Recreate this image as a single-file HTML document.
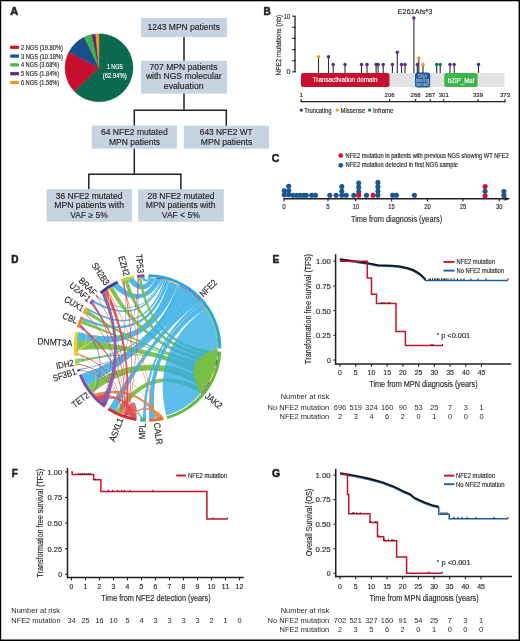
<!DOCTYPE html>
<html><head><meta charset="utf-8"><style>
html,body{margin:0;padding:0;background:#fff;}
body{width:520px;height:641px;overflow:hidden;position:relative;}
svg{position:absolute;left:0;top:0;display:block;will-change:transform;}
text{font-family:"Liberation Sans",sans-serif;}
</style></head><body>
<svg width="520" height="641" viewBox="0 0 520 641">
<rect x="0" y="0" width="520" height="641" fill="#fff"/>
<g fill="#231f20">
<text x="10.30" y="15.00" font-size="11" font-weight="bold" stroke="#231f20" stroke-width="0.55">A</text>
<path d="M99.0,67.8 L99.00,33.80 A34.0,34.0 0 1 1 74.30,91.17 Z" fill="#0b6a4e" stroke="#0b6a4e" stroke-width="0.4" stroke-linejoin="round"/>
<path d="M99.0,67.8 L74.30,91.17 A34.0,34.0 0 0 1 68.94,51.91 Z" fill="#c8102e" stroke="#c8102e" stroke-width="0.4" stroke-linejoin="round"/>
<path d="M99.0,67.8 L68.94,51.91 A34.0,34.0 0 0 1 84.37,37.11 Z" fill="#1b4f8a" stroke="#1b4f8a" stroke-width="0.4" stroke-linejoin="round"/>
<path d="M99.0,67.8 L84.37,37.11 A34.0,34.0 0 0 1 91.79,34.57 Z" fill="#3db54a" stroke="#3db54a" stroke-width="0.4" stroke-linejoin="round"/>
<path d="M99.0,67.8 L91.79,34.57 A34.0,34.0 0 0 1 95.67,33.96 Z" fill="#5c2483" stroke="#5c2483" stroke-width="0.4" stroke-linejoin="round"/>
<path d="M99.0,67.8 L95.67,33.96 A34.0,34.0 0 0 1 99.00,33.80 Z" fill="#f7941d" stroke="#f7941d" stroke-width="0.4" stroke-linejoin="round"/>
<text x="114.90" y="69.40" font-size="7.5" text-anchor="middle" stroke="#ffffff" stroke-width="0.15" fill="#ffffff" textLength="16.00" lengthAdjust="spacingAndGlyphs">1 NGS</text>
<text x="114.80" y="78.10" font-size="7.5" text-anchor="middle" stroke="#ffffff" stroke-width="0.15" fill="#ffffff" textLength="24.00" lengthAdjust="spacingAndGlyphs">(62.94%)</text>
<rect x="10.20" y="45.70" width="8.70" height="3.20" fill="#c8102e"/>
<text x="20.90" y="49.80" font-size="6.9" stroke="#231f20" stroke-width="0.15" textLength="42.00" lengthAdjust="spacingAndGlyphs">2 NGS (19.80%)</text>
<rect x="10.20" y="54.50" width="8.70" height="3.20" fill="#1b4f8a"/>
<text x="20.90" y="58.60" font-size="6.9" stroke="#231f20" stroke-width="0.15" textLength="42.00" lengthAdjust="spacingAndGlyphs">3 NGS (10.18%)</text>
<rect x="10.20" y="63.30" width="8.70" height="3.20" fill="#3db54a"/>
<text x="20.90" y="67.40" font-size="6.9" stroke="#231f20" stroke-width="0.15" textLength="38.30" lengthAdjust="spacingAndGlyphs">4 NGS (3.68%)</text>
<rect x="10.20" y="72.10" width="8.70" height="3.20" fill="#5c2483"/>
<text x="20.90" y="76.20" font-size="6.9" stroke="#231f20" stroke-width="0.15" textLength="38.30" lengthAdjust="spacingAndGlyphs">5 NGS (1.84%)</text>
<rect x="10.20" y="80.90" width="8.70" height="3.20" fill="#f7941d"/>
<text x="20.90" y="85.00" font-size="6.9" stroke="#231f20" stroke-width="0.15" textLength="38.30" lengthAdjust="spacingAndGlyphs">6 NGS (1.56%)</text>
<rect x="141.00" y="18.00" width="86.00" height="19.00" fill="#c6d4e1"/>
<rect x="141.00" y="60.80" width="86.00" height="32.80" fill="#c6d4e1"/>
<rect x="91.70" y="125.60" width="85.20" height="23.10" fill="#c6d4e1"/>
<rect x="183.80" y="125.70" width="85.20" height="23.00" fill="#c6d4e1"/>
<rect x="46.60" y="189.00" width="85.40" height="32.70" fill="#c6d4e1"/>
<rect x="138.20" y="189.20" width="85.60" height="32.50" fill="#c6d4e1"/>
<line x1="184.00" y1="37.00" x2="184.00" y2="60.80" stroke="#231f20" stroke-width="1.5"/>
<line x1="184.00" y1="93.60" x2="184.00" y2="110.30" stroke="#231f20" stroke-width="1.5"/>
<line x1="133.55" y1="110.30" x2="227.05" y2="110.30" stroke="#231f20" stroke-width="1.5"/>
<line x1="134.30" y1="110.30" x2="134.30" y2="125.60" stroke="#231f20" stroke-width="1.5"/>
<line x1="226.30" y1="110.30" x2="226.30" y2="125.70" stroke="#231f20" stroke-width="1.5"/>
<line x1="134.30" y1="148.70" x2="134.30" y2="174.30" stroke="#231f20" stroke-width="1.5"/>
<line x1="88.05" y1="174.30" x2="181.65" y2="174.30" stroke="#231f20" stroke-width="1.5"/>
<line x1="88.80" y1="174.30" x2="88.80" y2="189.00" stroke="#231f20" stroke-width="1.5"/>
<line x1="180.90" y1="174.30" x2="180.90" y2="189.20" stroke="#231f20" stroke-width="1.5"/>
<text x="183.75" y="30.20" font-size="8.5" text-anchor="middle" stroke="#231f20" stroke-width="0.15">1243 MPN patients</text>
<text x="183.50" y="70.00" font-size="8.5" text-anchor="middle" stroke="#231f20" stroke-width="0.15" textLength="67.90" lengthAdjust="spacingAndGlyphs">707 MPN patients</text>
<text x="183.75" y="79.40" font-size="8.5" text-anchor="middle" stroke="#231f20" stroke-width="0.15" textLength="75.70" lengthAdjust="spacingAndGlyphs">with NGS molecular</text>
<text x="183.70" y="88.80" font-size="8.5" text-anchor="middle" stroke="#231f20" stroke-width="0.15" textLength="39.80" lengthAdjust="spacingAndGlyphs">evaluation</text>
<text x="134.35" y="135.20" font-size="8.5" text-anchor="middle" stroke="#231f20" stroke-width="0.15">64 NFE2 mutated</text>
<text x="134.50" y="144.50" font-size="8.5" text-anchor="middle" stroke="#231f20" stroke-width="0.15">MPN patients</text>
<text x="226.25" y="135.20" font-size="8.5" text-anchor="middle" stroke="#231f20" stroke-width="0.15" textLength="52.90" lengthAdjust="spacingAndGlyphs">643 NFE2 WT</text>
<text x="226.50" y="144.50" font-size="8.5" text-anchor="middle" stroke="#231f20" stroke-width="0.15" textLength="51.40" lengthAdjust="spacingAndGlyphs">MPN patients</text>
<text x="89.05" y="198.50" font-size="8.5" text-anchor="middle" stroke="#231f20" stroke-width="0.15">36 NFE2 mutated</text>
<text x="89.10" y="207.90" font-size="8.5" text-anchor="middle" stroke="#231f20" stroke-width="0.15" textLength="69.80" lengthAdjust="spacingAndGlyphs">MPN patients with</text>
<text x="89.05" y="217.60" font-size="8.5" text-anchor="middle" stroke="#231f20" stroke-width="0.15">VAF ≥ 5%</text>
<text x="180.90" y="198.50" font-size="8.5" text-anchor="middle" stroke="#231f20" stroke-width="0.15" textLength="67.00" lengthAdjust="spacingAndGlyphs">28 NFE2 mutated</text>
<text x="180.65" y="207.90" font-size="8.5" text-anchor="middle" stroke="#231f20" stroke-width="0.15" textLength="69.70" lengthAdjust="spacingAndGlyphs">MPN patients with</text>
<text x="180.80" y="217.60" font-size="8.5" text-anchor="middle" stroke="#231f20" stroke-width="0.15">VAF &lt; 5%</text>
<text x="263.50" y="14.70" font-size="10" font-weight="bold" stroke="#231f20" stroke-width="0.55">B</text>
<line x1="295.00" y1="16.20" x2="295.00" y2="72.30" stroke="#231f20" stroke-width="1.3"/>
<line x1="292.20" y1="16.20" x2="295.60" y2="16.20" stroke="#231f20" stroke-width="1.1"/>
<line x1="292.20" y1="27.32" x2="295.60" y2="27.32" stroke="#231f20" stroke-width="1.1"/>
<line x1="292.20" y1="38.44" x2="295.60" y2="38.44" stroke="#231f20" stroke-width="1.1"/>
<line x1="292.20" y1="49.56" x2="295.60" y2="49.56" stroke="#231f20" stroke-width="1.1"/>
<line x1="292.20" y1="60.68" x2="295.60" y2="60.68" stroke="#231f20" stroke-width="1.1"/>
<line x1="292.20" y1="71.80" x2="295.60" y2="71.80" stroke="#231f20" stroke-width="1.1"/>
<text x="290.10" y="19.40" font-size="7.0" text-anchor="end" stroke="#231f20" stroke-width="0.15" textLength="6.10" lengthAdjust="spacingAndGlyphs">10</text>
<text x="290.30" y="74.20" font-size="7.0" text-anchor="end" stroke="#231f20" stroke-width="0.15">0</text>
<text x="281.00" y="45.20" font-size="6.6" text-anchor="middle" stroke="#231f20" stroke-width="0.15" transform="rotate(-90 281.00 45.20)">NFE2 mutations (nb)</text>
<rect x="301.00" y="73.00" width="203.60" height="14.00" fill="#e2e2e2" rx="2.5"/>
<rect x="301.00" y="73.00" width="88.50" height="14.00" fill="#c8102e" rx="2.5"/>
<rect x="415.00" y="72.60" width="15.20" height="14.80" fill="#1f5a96" rx="2.5"/>
<rect x="444.30" y="73.00" width="33.30" height="14.00" fill="#3db54a" rx="2.5"/>
<text x="345.10" y="82.40" font-size="6.6" text-anchor="middle" stroke="#ffffff" stroke-width="0.15" fill="#ffffff" textLength="64.80" lengthAdjust="spacingAndGlyphs">Transactivation domain</text>
<text x="461.20" y="82.60" font-size="6.8" text-anchor="middle" stroke="#ffffff" stroke-width="0.15" fill="#ffffff" textLength="26.50" lengthAdjust="spacingAndGlyphs">bZIP_Maf</text>
<text x="422.70" y="77.80" font-size="4.6" text-anchor="middle" fill="#c9d8ea" textLength="8.70" lengthAdjust="spacingAndGlyphs">DNA</text>
<text x="422.50" y="81.90" font-size="4.6" text-anchor="middle" fill="#c9d8ea" textLength="13.30" lengthAdjust="spacingAndGlyphs">binding</text>
<text x="422.50" y="86.00" font-size="4.6" text-anchor="middle" fill="#c9d8ea" textLength="13.30" lengthAdjust="spacingAndGlyphs">domain</text>
<line x1="318.50" y1="56.80" x2="318.50" y2="73.00" stroke="#2b2b2b" stroke-width="1.1"/>
<line x1="328.50" y1="56.80" x2="328.50" y2="73.00" stroke="#2b2b2b" stroke-width="1.1"/>
<line x1="333.20" y1="64.50" x2="333.20" y2="73.00" stroke="#2b2b2b" stroke-width="1.1"/>
<line x1="345.00" y1="64.50" x2="345.00" y2="73.00" stroke="#2b2b2b" stroke-width="1.1"/>
<line x1="361.50" y1="64.50" x2="361.50" y2="73.00" stroke="#2b2b2b" stroke-width="1.1"/>
<line x1="367.00" y1="64.50" x2="367.00" y2="73.00" stroke="#2b2b2b" stroke-width="1.1"/>
<line x1="376.10" y1="64.50" x2="376.10" y2="73.00" stroke="#2b2b2b" stroke-width="1.1"/>
<line x1="378.10" y1="64.50" x2="378.10" y2="73.00" stroke="#2b2b2b" stroke-width="1.1"/>
<line x1="383.20" y1="64.50" x2="383.20" y2="73.00" stroke="#2b2b2b" stroke-width="1.1"/>
<line x1="392.40" y1="64.50" x2="392.40" y2="73.00" stroke="#2b2b2b" stroke-width="1.1"/>
<line x1="397.30" y1="52.20" x2="397.30" y2="73.00" stroke="#2b2b2b" stroke-width="1.1"/>
<line x1="401.50" y1="64.50" x2="401.50" y2="73.00" stroke="#2b2b2b" stroke-width="1.1"/>
<line x1="405.00" y1="64.50" x2="405.00" y2="73.00" stroke="#2b2b2b" stroke-width="1.1"/>
<line x1="413.90" y1="17.90" x2="413.90" y2="73.00" stroke="#2b2b2b" stroke-width="1.1"/>
<line x1="417.30" y1="64.50" x2="417.30" y2="73.00" stroke="#2b2b2b" stroke-width="1.1"/>
<line x1="418.80" y1="58.10" x2="418.80" y2="73.00" stroke="#2b2b2b" stroke-width="1.1"/>
<line x1="423.00" y1="64.50" x2="423.00" y2="73.00" stroke="#2b2b2b" stroke-width="1.1"/>
<line x1="436.70" y1="64.50" x2="436.70" y2="73.00" stroke="#2b2b2b" stroke-width="1.1"/>
<line x1="440.20" y1="64.50" x2="440.20" y2="73.00" stroke="#2b2b2b" stroke-width="1.1"/>
<line x1="450.00" y1="64.50" x2="450.00" y2="73.00" stroke="#2b2b2b" stroke-width="1.1"/>
<line x1="454.20" y1="64.50" x2="454.20" y2="73.00" stroke="#2b2b2b" stroke-width="1.1"/>
<line x1="478.50" y1="64.50" x2="478.50" y2="73.00" stroke="#2b2b2b" stroke-width="1.1"/>
<circle cx="318.50" cy="56.80" r="1.75" fill="#f7941d"/>
<circle cx="328.50" cy="56.80" r="1.75" fill="#5b2a86"/>
<circle cx="333.20" cy="64.50" r="1.75" fill="#5b2a86"/>
<circle cx="345.00" cy="64.50" r="1.75" fill="#5b2a86"/>
<circle cx="361.50" cy="64.50" r="1.75" fill="#5b2a86"/>
<circle cx="367.00" cy="64.50" r="1.75" fill="#5b2a86"/>
<circle cx="376.10" cy="64.50" r="1.75" fill="#5b2a86"/>
<circle cx="378.10" cy="64.50" r="1.75" fill="#5b2a86"/>
<circle cx="383.20" cy="64.50" r="1.75" fill="#5b2a86"/>
<circle cx="392.40" cy="64.50" r="1.75" fill="#5b2a86"/>
<circle cx="397.30" cy="52.20" r="1.75" fill="#5b2a86"/>
<circle cx="401.50" cy="64.50" r="1.75" fill="#5b2a86"/>
<circle cx="405.00" cy="64.50" r="1.75" fill="#5b2a86"/>
<circle cx="413.90" cy="17.90" r="1.75" fill="#5b2a86"/>
<circle cx="417.30" cy="64.50" r="1.75" fill="#5b2a86"/>
<circle cx="418.80" cy="58.10" r="1.75" fill="#f7941d"/>
<circle cx="423.00" cy="64.50" r="1.75" fill="#f7941d"/>
<circle cx="436.70" cy="64.50" r="1.75" fill="#11705a"/>
<circle cx="440.20" cy="64.50" r="1.75" fill="#11705a"/>
<circle cx="450.00" cy="64.50" r="1.75" fill="#5b2a86"/>
<circle cx="454.20" cy="64.50" r="1.75" fill="#5b2a86"/>
<circle cx="478.50" cy="64.50" r="1.75" fill="#5b2a86"/>
<text x="415.00" y="13.80" font-size="7.3" text-anchor="middle" stroke="#231f20" stroke-width="0.15">E261Afs*3</text>
<line x1="300.60" y1="101.70" x2="505.60" y2="101.70" stroke="#231f20" stroke-width="1.2"/>
<line x1="301.20" y1="98.90" x2="301.20" y2="101.70" stroke="#231f20" stroke-width="1.1"/>
<text x="301.20" y="96.90" font-size="6.0" text-anchor="middle" stroke="#231f20" stroke-width="0.15">1</text>
<line x1="389.60" y1="98.90" x2="389.60" y2="101.70" stroke="#231f20" stroke-width="1.1"/>
<text x="389.60" y="96.90" font-size="6.0" text-anchor="middle" stroke="#231f20" stroke-width="0.15">206</text>
<line x1="415.60" y1="98.90" x2="415.60" y2="101.70" stroke="#231f20" stroke-width="1.1"/>
<text x="415.60" y="96.90" font-size="6.0" text-anchor="middle" stroke="#231f20" stroke-width="0.15">268</text>
<line x1="430.20" y1="98.90" x2="430.20" y2="101.70" stroke="#231f20" stroke-width="1.1"/>
<text x="430.20" y="96.90" font-size="6.0" text-anchor="middle" stroke="#231f20" stroke-width="0.15">287</text>
<line x1="443.80" y1="98.90" x2="443.80" y2="101.70" stroke="#231f20" stroke-width="1.1"/>
<text x="443.80" y="96.90" font-size="6.0" text-anchor="middle" stroke="#231f20" stroke-width="0.15">301</text>
<line x1="478.00" y1="98.90" x2="478.00" y2="101.70" stroke="#231f20" stroke-width="1.1"/>
<text x="478.00" y="96.90" font-size="6.0" text-anchor="middle" stroke="#231f20" stroke-width="0.15">339</text>
<line x1="505.00" y1="98.90" x2="505.00" y2="101.70" stroke="#231f20" stroke-width="1.1"/>
<text x="505.00" y="96.90" font-size="6.0" text-anchor="middle" stroke="#231f20" stroke-width="0.15">373</text>
<circle cx="301.30" cy="110.10" r="1.6" fill="#5b2a86"/>
<text x="304.20" y="112.50" font-size="6.9" stroke="#231f20" stroke-width="0.15" textLength="27.30" lengthAdjust="spacingAndGlyphs">Truncating</text>
<circle cx="337.30" cy="110.10" r="1.6" fill="#f7941d"/>
<text x="340.60" y="112.50" font-size="6.9" stroke="#231f20" stroke-width="0.15" textLength="24.60" lengthAdjust="spacingAndGlyphs">Missense</text>
<circle cx="369.60" cy="110.10" r="1.6" fill="#11705a"/>
<text x="372.90" y="112.50" font-size="6.9" stroke="#231f20" stroke-width="0.15" textLength="20.60" lengthAdjust="spacingAndGlyphs">Inframe</text>
<text x="271.80" y="162.30" font-size="10.5" font-weight="bold" stroke="#231f20" stroke-width="0.55">C</text>
<circle cx="340.80" cy="155.60" r="2.4" fill="#d0103a"/>
<circle cx="340.80" cy="165.30" r="2.4" fill="#1a5693"/>
<text x="345.60" y="157.60" font-size="6.3" stroke="#231f20" stroke-width="0.15" textLength="163.10" lengthAdjust="spacingAndGlyphs">NFE2 mutation in patients with previous NGS showing WT NFE2</text>
<text x="345.60" y="167.30" font-size="6.3" stroke="#231f20" stroke-width="0.15" textLength="112.40" lengthAdjust="spacingAndGlyphs">NFE2 mutation detected in first NGS sample</text>
<line x1="283.30" y1="198.80" x2="506.00" y2="198.80" stroke="#231f20" stroke-width="1.4"/>
<path d="M504.5,196.9 L510.6,198.8 L504.5,200.7 Z" fill="#231f20"/>
<line x1="284.00" y1="198.80" x2="284.00" y2="201.30" stroke="#231f20" stroke-width="1.1"/>
<text x="284.00" y="208.60" font-size="6.7" text-anchor="middle" stroke="#231f20" stroke-width="0.15" textLength="3.40" lengthAdjust="spacingAndGlyphs">0</text>
<line x1="328.00" y1="198.80" x2="328.00" y2="201.30" stroke="#231f20" stroke-width="1.1"/>
<text x="328.00" y="208.60" font-size="6.7" text-anchor="middle" stroke="#231f20" stroke-width="0.15" textLength="3.40" lengthAdjust="spacingAndGlyphs">5</text>
<line x1="355.70" y1="198.80" x2="355.70" y2="201.30" stroke="#231f20" stroke-width="1.1"/>
<text x="355.70" y="208.60" font-size="6.7" text-anchor="middle" stroke="#231f20" stroke-width="0.15" textLength="6.50" lengthAdjust="spacingAndGlyphs">10</text>
<line x1="391.60" y1="198.80" x2="391.60" y2="201.30" stroke="#231f20" stroke-width="1.1"/>
<text x="391.60" y="208.60" font-size="6.7" text-anchor="middle" stroke="#231f20" stroke-width="0.15" textLength="6.50" lengthAdjust="spacingAndGlyphs">15</text>
<line x1="427.50" y1="198.80" x2="427.50" y2="201.30" stroke="#231f20" stroke-width="1.1"/>
<text x="427.50" y="208.60" font-size="6.7" text-anchor="middle" stroke="#231f20" stroke-width="0.15" textLength="6.50" lengthAdjust="spacingAndGlyphs">20</text>
<line x1="463.00" y1="198.80" x2="463.00" y2="201.30" stroke="#231f20" stroke-width="1.1"/>
<text x="463.00" y="208.60" font-size="6.7" text-anchor="middle" stroke="#231f20" stroke-width="0.15" textLength="6.50" lengthAdjust="spacingAndGlyphs">25</text>
<line x1="499.30" y1="198.80" x2="499.30" y2="201.30" stroke="#231f20" stroke-width="1.1"/>
<text x="499.30" y="208.60" font-size="6.7" text-anchor="middle" stroke="#231f20" stroke-width="0.15" textLength="6.50" lengthAdjust="spacingAndGlyphs">30</text>
<text x="396.50" y="221.60" font-size="9.8" text-anchor="middle" stroke="#231f20" stroke-width="0.15" textLength="91.20" lengthAdjust="spacingAndGlyphs">Time from diagnosis (years)</text>
<circle cx="284.30" cy="194.80" r="2.55" fill="#1a5693"/>
<circle cx="284.30" cy="190.80" r="2.55" fill="#1a5693"/>
<circle cx="288.70" cy="194.80" r="2.55" fill="#1a5693"/>
<circle cx="288.70" cy="190.80" r="2.55" fill="#1a5693"/>
<circle cx="288.70" cy="186.20" r="2.55" fill="#1a5693"/>
<circle cx="292.90" cy="195.30" r="2.55" fill="#1a5693"/>
<circle cx="296.70" cy="195.30" r="2.55" fill="#1a5693"/>
<circle cx="300.10" cy="195.30" r="2.55" fill="#1a5693"/>
<circle cx="303.50" cy="195.30" r="2.55" fill="#1a5693"/>
<circle cx="306.30" cy="195.30" r="2.55" fill="#1a5693"/>
<circle cx="311.60" cy="195.30" r="2.55" fill="#1a5693"/>
<circle cx="315.50" cy="195.30" r="2.55" fill="#1a5693"/>
<circle cx="329.80" cy="195.30" r="2.55" fill="#1a5693"/>
<circle cx="336.10" cy="195.30" r="2.55" fill="#1a5693"/>
<circle cx="341.80" cy="195.30" r="2.55" fill="#1a5693"/>
<circle cx="341.80" cy="191.20" r="2.55" fill="#1a5693"/>
<circle cx="341.80" cy="186.60" r="2.55" fill="#1a5693"/>
<circle cx="346.20" cy="195.30" r="2.55" fill="#1a5693"/>
<circle cx="353.80" cy="195.30" r="2.55" fill="#1a5693"/>
<circle cx="358.70" cy="191.70" r="2.55" fill="#1a5693"/>
<circle cx="358.70" cy="187.40" r="2.55" fill="#1a5693"/>
<circle cx="358.70" cy="183.10" r="2.55" fill="#1a5693"/>
<circle cx="358.70" cy="195.30" r="2.55" fill="#d0103a"/>
<circle cx="366.50" cy="195.30" r="2.55" fill="#1a5693"/>
<circle cx="373.10" cy="195.30" r="2.55" fill="#d0103a"/>
<circle cx="377.90" cy="195.30" r="2.55" fill="#1a5693"/>
<circle cx="377.90" cy="191.20" r="2.55" fill="#1a5693"/>
<circle cx="377.90" cy="186.90" r="2.55" fill="#1a5693"/>
<circle cx="377.90" cy="182.40" r="2.55" fill="#1a5693"/>
<circle cx="392.60" cy="195.30" r="2.55" fill="#1a5693"/>
<circle cx="396.40" cy="195.30" r="2.55" fill="#1a5693"/>
<circle cx="414.40" cy="195.30" r="2.55" fill="#1a5693"/>
<circle cx="485.10" cy="195.70" r="2.55" fill="#d0103a"/>
<circle cx="485.10" cy="191.30" r="2.55" fill="#1a5693"/>
<circle cx="485.10" cy="186.60" r="2.55" fill="#d0103a"/>
<circle cx="503.90" cy="195.40" r="2.55" fill="#1a5693"/>
<circle cx="503.90" cy="191.60" r="2.55" fill="#1a5693"/>
<text x="11.20" y="263.00" font-size="10" font-weight="bold" stroke="#231f20" stroke-width="0.55">D</text>
<path d="M217.51,351.55 A70.10,70.10 0 0 1 200.97,393.34 Q180.57,360.23 217.60,348.37 Z" fill="#7bc143"/>
<path d="M148.48,277.91 A70.10,70.10 0 0 1 149.96,277.94 Q145.87,284.81 141.43,278.16 A70.10,70.10 0 0 1 144.56,277.96 Q146.57,281.11 148.48,277.91 Z" fill="#4fb8e8"/>
<path d="M149.96,277.94 A70.10,70.10 0 0 1 156.12,278.43 Q143.68,299.61 128.06,280.65 A70.10,70.10 0 0 1 134.36,279.14 Q143.08,290.46 149.96,277.94 Z" fill="#4fb8e8"/>
<path d="M156.12,278.43 A70.10,70.10 0 0 1 161.73,279.36 Q142.21,313.94 113.12,286.91 A70.10,70.10 0 0 1 118.65,284.11 Q141.23,306.65 156.12,278.43 Z" fill="#4fb8e8"/>
<path d="M161.73,279.36 A70.10,70.10 0 0 1 162.69,279.57 Q140.93,325.08 98.37,298.00 A70.10,70.10 0 0 1 99.07,297.32 Q140.66,324.12 161.73,279.36 Z" fill="#4fb8e8"/>
<path d="M162.69,279.57 A70.10,70.10 0 0 1 164.14,279.90 Q141.31,329.12 93.76,302.99 A70.10,70.10 0 0 1 95.16,301.37 Q140.87,327.47 162.69,279.57 Z" fill="#4fb8e8"/>
<path d="M164.14,279.90 A70.10,70.10 0 0 1 165.93,280.37 Q145.26,342.28 88.08,310.81 A70.10,70.10 0 0 1 89.18,309.11 Q144.63,340.63 164.14,279.90 Z" fill="#4fb8e8"/>
<path d="M165.93,280.37 A70.10,70.10 0 0 1 168.90,281.24 Q147.29,347.55 82.99,320.57 A70.10,70.10 0 0 1 84.18,317.93 Q146.35,345.50 165.93,280.37 Z" fill="#4fb8e8"/>
<path d="M168.90,281.24 A70.10,70.10 0 0 1 177.51,284.65 Q151.22,354.64 77.79,340.57 A70.10,70.10 0 0 1 79.17,332.35 Q149.23,351.04 168.90,281.24 Z" fill="#4fb8e8"/>
<path d="M177.51,284.65 A70.10,70.10 0 0 1 179.17,285.46 Q153.61,356.19 78.53,360.53 A70.10,70.10 0 0 1 78.23,358.72 Q153.46,355.99 177.51,284.65 Z" fill="#4fb8e8"/>
<path d="M179.17,285.46 A70.10,70.10 0 0 1 180.05,285.92 Q154.26,356.00 80.87,369.78 A70.10,70.10 0 0 1 80.57,368.85 Q154.26,356.00 179.17,285.46 Z" fill="#4fb8e8"/>
<path d="M217.51,351.55 A70.10,70.10 0 0 1 217.22,355.32 Q149.50,345.96 138.99,278.42 A70.10,70.10 0 0 1 141.43,278.16 Q150.63,344.76 217.51,351.55 Z" fill="#76c043" fill-opacity="0.95"/>
<path d="M217.22,355.32 A70.10,70.10 0 0 1 216.60,359.79 Q146.73,348.91 124.56,281.76 A70.10,70.10 0 0 1 128.06,280.65 Q147.71,347.75 217.22,355.32 Z" fill="#76c043" fill-opacity="0.95"/>
<path d="M216.60,359.79 A70.10,70.10 0 0 1 215.53,364.92 Q145.24,351.17 109.31,289.22 A70.10,70.10 0 0 1 113.12,286.91 Q145.79,350.43 216.60,359.79 Z" fill="#76c043" fill-opacity="0.95"/>
<path d="M215.53,364.92 A70.10,70.10 0 0 1 214.62,368.22 Q146.25,350.96 86.16,314.07 A70.10,70.10 0 0 1 88.08,310.81 Q145.96,351.63 215.53,364.92 Z" fill="#76c043" fill-opacity="0.95"/>
<path d="M214.62,368.22 A70.10,70.10 0 0 1 213.48,371.69 Q147.43,348.20 81.71,323.80 A70.10,70.10 0 0 1 82.99,320.57 Q146.80,349.93 214.62,368.22 Z" fill="#76c043" fill-opacity="0.95"/>
<path d="M213.48,371.69 A70.10,70.10 0 0 1 212.79,373.52 Q147.87,343.56 78.91,362.45 A70.10,70.10 0 0 1 78.53,360.53 Q147.87,343.52 213.48,371.69 Z" fill="#76c043" fill-opacity="0.95"/>
<path d="M212.79,373.52 A70.10,70.10 0 0 1 209.20,381.26 Q148.53,343.63 77.43,350.10 A70.10,70.10 0 0 1 77.79,340.57 Q148.36,344.46 212.79,373.52 Z" fill="#76c043" fill-opacity="0.95"/>
<path d="M209.20,381.26 A70.10,70.10 0 0 1 204.13,389.31 Q147.56,350.34 93.17,392.30 A70.10,70.10 0 0 1 88.02,385.10 Q147.46,346.62 209.20,381.26 Z" fill="#76c043" fill-opacity="0.95"/>
<path d="M204.13,389.31 A70.10,70.10 0 0 1 200.97,393.34 Q151.17,363.03 120.94,412.88 A70.10,70.10 0 0 1 116.14,410.69 Q150.19,359.06 204.13,389.31 Z" fill="#76c043" fill-opacity="0.95"/>
<path d="M205.38,308.45 A70.10,70.10 0 0 1 217.60,348.37 Q180.57,360.23 200.97,393.34 A70.10,70.10 0 0 1 166.23,415.55 Q150.47,349.08 205.38,308.45 Z" fill="#35aee6" fill-opacity="0.8"/>
<path d="M180.05,285.92 A70.10,70.10 0 0 1 193.49,295.10 Q149.99,350.92 88.02,385.10 A70.10,70.10 0 0 1 82.32,373.81 Q150.23,351.03 180.05,285.92 Z" fill="#3aafe6" fill-opacity="0.88"/>
<path d="M193.49,295.10 A70.10,70.10 0 0 1 199.82,301.35 Q144.14,345.43 116.14,410.69 A70.10,70.10 0 0 1 109.53,406.92 Q145.51,346.51 193.49,295.10 Z" fill="#3aafe6" fill-opacity="0.88"/>
<path d="M199.82,301.35 A70.10,70.10 0 0 1 201.83,303.70 Q144.66,346.61 146.03,418.08 A70.10,70.10 0 0 1 142.91,417.95 Q144.13,346.36 199.82,301.35 Z" fill="#3aafe6" fill-opacity="0.88"/>
<path d="M201.83,303.70 A70.10,70.10 0 0 1 205.38,308.45 Q146.52,347.55 154.95,417.70 A70.10,70.10 0 0 1 149.09,418.08 Q144.95,346.82 201.83,303.70 Z" fill="#3aafe6" fill-opacity="0.88"/>
<path d="M136.53,417.24 A70.10,70.10 0 0 1 124.10,414.08 Q137.14,388.80 136.53,417.24 Z" fill="#e8464b" fill-opacity="0.85"/>
<path d="M101.16,400.60 A70.10,70.10 0 0 1 96.60,396.20 Q109.94,386.94 101.16,400.60 Z" fill="#e8464b" fill-opacity="0.9"/>
<path d="M106.30,404.71 A70.10,70.10 0 0 1 99.25,398.85 Q114.19,388.06 106.30,404.71 Z" fill="#8c5ba8" fill-opacity="0.9"/>
<path d="M162.91,416.38 A70.10,70.10 0 0 1 159.91,416.99 Q145.76,402.26 130.68,416.05 A70.10,70.10 0 0 1 129.21,415.67 Q146.40,400.08 162.91,416.38 Z" fill="#f0844a" fill-opacity="0.95"/>
<path d="M159.91,416.99 A70.10,70.10 0 0 1 156.89,417.47 Q134.73,384.22 96.60,396.20 A70.10,70.10 0 0 1 94.48,393.85 Q135.46,382.06 159.91,416.99 Z" fill="#f0844a" fill-opacity="0.95"/>
<path d="M156.89,417.47 A70.10,70.10 0 0 1 156.29,417.55 Q132.50,366.92 77.78,355.33 A70.10,70.10 0 0 1 77.72,354.73 Q132.70,366.67 156.89,417.47 Z" fill="#f0844a" fill-opacity="0.95"/>
<path d="M156.29,417.55 A70.10,70.10 0 0 1 155.56,417.64 Q139.69,350.93 107.74,290.27 A70.10,70.10 0 0 1 108.41,289.81 Q139.97,350.82 156.29,417.55 Z" fill="#f0844a" fill-opacity="0.95"/>
<path d="M155.56,417.64 A70.10,70.10 0 0 1 154.95,417.70 Q142.52,349.21 122.15,282.64 A70.10,70.10 0 0 1 123.07,282.30 Q142.85,349.12 155.56,417.64 Z" fill="#f0844a" fill-opacity="0.95"/>
<path d="M142.91,417.95 A70.10,70.10 0 0 1 141.66,417.86 Q136.62,410.01 129.21,415.67 A70.10,70.10 0 0 1 128.43,415.46 Q137.00,408.94 142.91,417.95 Z" fill="#4dbf8f" fill-opacity="0.95"/>
<path d="M141.66,417.86 A70.10,70.10 0 0 1 140.42,417.74 Q127.36,386.74 94.48,393.85 A70.10,70.10 0 0 1 93.98,393.28 Q127.87,386.08 141.66,417.86 Z" fill="#4dbf8f" fill-opacity="0.95"/>
<path d="M136.63,417.25 A70.10,70.10 0 0 1 135.82,417.12 Q126.06,392.96 101.14,400.58 A70.10,70.10 0 0 1 100.50,400.01 Q126.37,392.27 136.63,417.25 Z" fill="#e8464b" fill-opacity="0.95"/>
<path d="M135.77,417.11 A70.10,70.10 0 0 1 134.96,416.97 Q125.50,392.67 100.46,399.98 A70.10,70.10 0 0 1 99.84,399.40 Q125.82,391.99 135.77,417.11 Z" fill="#e8464b" fill-opacity="0.95"/>
<path d="M134.91,416.96 A70.10,70.10 0 0 1 134.11,416.81 Q124.94,392.38 99.80,399.36 A70.10,70.10 0 0 1 99.18,398.78 Q125.27,391.70 134.91,416.96 Z" fill="#e8464b" fill-opacity="0.95"/>
<path d="M134.06,416.80 A70.10,70.10 0 0 1 133.26,416.64 Q124.39,392.07 99.14,398.74 A70.10,70.10 0 0 1 98.53,398.15 Q124.73,391.40 134.06,416.80 Z" fill="#e8464b" fill-opacity="0.95"/>
<path d="M133.20,416.63 A70.10,70.10 0 0 1 132.40,416.46 Q123.84,391.76 98.49,398.12 A70.10,70.10 0 0 1 97.88,397.52 Q124.19,391.09 133.20,416.63 Z" fill="#e8464b" fill-opacity="0.95"/>
<path d="M132.35,416.44 A70.10,70.10 0 0 1 131.56,416.26 Q123.29,391.45 97.84,397.48 A70.10,70.10 0 0 1 97.25,396.87 Q123.65,390.78 132.35,416.44 Z" fill="#e8464b" fill-opacity="0.95"/>
<path d="M131.51,416.25 A70.10,70.10 0 0 1 130.71,416.06 Q122.75,391.12 97.21,396.84 A70.10,70.10 0 0 1 96.62,396.22 Q123.12,390.46 131.51,416.25 Z" fill="#e8464b" fill-opacity="0.95"/>
<path d="M128.43,415.46 A70.10,70.10 0 0 1 127.84,415.29 Q140.01,347.47 137.50,278.62 A70.10,70.10 0 0 1 138.31,278.50 Q140.30,347.48 128.43,415.46 Z" fill="#e8464b" fill-opacity="0.95"/>
<path d="M127.84,415.29 A70.10,70.10 0 0 1 127.06,415.05 Q136.96,348.32 123.07,282.30 A70.10,70.10 0 0 1 123.98,281.96 Q137.30,348.30 127.84,415.29 Z" fill="#e8464b" fill-opacity="0.95"/>
<path d="M127.06,415.05 A70.10,70.10 0 0 1 124.94,414.37 Q132.70,350.42 105.01,292.25 A70.10,70.10 0 0 1 107.74,290.27 Q133.78,350.12 127.06,415.05 Z" fill="#e8464b" fill-opacity="0.95"/>
<path d="M124.94,414.37 A70.10,70.10 0 0 1 124.55,414.24 Q130.90,351.82 97.93,298.43 A70.10,70.10 0 0 1 98.37,298.00 Q131.11,351.74 124.94,414.37 Z" fill="#e8464b" fill-opacity="0.95"/>
<path d="M124.55,414.24 A70.10,70.10 0 0 1 123.79,413.97 Q129.11,353.37 92.04,305.13 A70.10,70.10 0 0 1 93.18,303.69 Q129.64,353.07 124.55,414.24 Z" fill="#e8464b" fill-opacity="0.95"/>
<path d="M123.79,413.97 A70.10,70.10 0 0 1 123.41,413.83 Q126.99,355.77 85.84,314.66 A70.10,70.10 0 0 1 86.16,314.07 Q127.22,355.64 123.79,413.97 Z" fill="#e8464b" fill-opacity="0.95"/>
<path d="M123.41,413.83 A70.10,70.10 0 0 1 122.45,413.47 Q124.21,359.48 80.32,327.97 A70.10,70.10 0 0 1 80.84,326.32 Q124.83,359.03 123.41,413.83 Z" fill="#e8464b" fill-opacity="0.95"/>
<path d="M122.45,413.47 A70.10,70.10 0 0 1 121.89,413.25 Q120.01,368.56 77.67,354.14 A70.10,70.10 0 0 1 77.59,353.19 Q120.39,368.18 122.45,413.47 Z" fill="#e8464b" fill-opacity="0.95"/>
<path d="M121.89,413.25 A70.10,70.10 0 0 1 121.32,413.03 Q118.48,373.21 79.45,364.84 A70.10,70.10 0 0 1 79.17,363.65 Q118.89,372.64 121.89,413.25 Z" fill="#e8464b" fill-opacity="0.95"/>
<path d="M121.32,413.03 A70.10,70.10 0 0 1 120.94,412.88 Q117.72,376.04 81.14,370.59 A70.10,70.10 0 0 1 80.87,369.78 Q117.99,375.60 121.32,413.03 Z" fill="#e8464b" fill-opacity="0.95"/>
<path d="M93.50,392.69 A70.10,70.10 0 0 1 93.17,392.30 Q102.39,366.55 77.72,354.73 A70.10,70.10 0 0 1 77.67,354.14 Q102.84,366.33 93.50,392.69 Z" fill="#f3d84a" fill-opacity="0.95"/>
<path d="M79.17,363.65 A70.10,70.10 0 0 1 78.91,362.45 Q83.38,357.10 77.59,353.19 A70.10,70.10 0 0 1 77.51,352.00 Q84.70,356.92 79.17,363.65 Z" fill="#f3d84a" fill-opacity="0.95"/>
<path d="M77.51,352.00 A70.10,70.10 0 0 1 77.47,351.05 Q92.40,339.88 81.32,324.89 A70.10,70.10 0 0 1 81.71,323.80 Q93.44,339.96 77.51,352.00 Z" fill="#f3d84a" fill-opacity="0.95"/>
<path d="M77.47,351.05 A70.10,70.10 0 0 1 77.43,350.10 Q114.77,331.18 108.41,289.81 A70.10,70.10 0 0 1 109.31,289.22 Q115.44,331.49 77.47,351.05 Z" fill="#f3d84a" fill-opacity="0.95"/>
<path d="M106.30,404.71 A70.10,70.10 0 0 1 102.31,401.59 Q125.91,348.05 102.07,294.62 A70.10,70.10 0 0 1 105.01,292.25 Q128.00,348.22 106.30,404.71 Z" fill="#8c5ba8" fill-opacity="0.95"/>
<path d="M102.31,401.59 A70.10,70.10 0 0 1 101.92,401.26 Q122.63,350.23 93.18,303.69 A70.10,70.10 0 0 1 93.76,302.99 Q123.00,350.12 102.31,401.59 Z" fill="#8c5ba8" fill-opacity="0.95"/>
<path d="M101.92,401.26 A70.10,70.10 0 0 1 101.54,400.93 Q131.66,345.01 123.98,281.96 A70.10,70.10 0 0 1 124.56,281.76 Q131.89,345.04 101.92,401.26 Z" fill="#8c5ba8" fill-opacity="0.95"/>
<path d="M101.54,400.93 A70.10,70.10 0 0 1 101.16,400.60 Q134.81,344.14 138.31,278.50 A70.10,70.10 0 0 1 138.99,278.42 Q135.04,344.19 101.54,400.93 Z" fill="#8c5ba8" fill-opacity="0.95"/>
<path d="M93.98,393.28 A70.10,70.10 0 0 1 93.50,392.69 Q111.27,354.91 80.84,326.32 A70.10,70.10 0 0 1 81.32,324.89 Q112.04,354.57 93.98,393.28 Z" fill="#8c5ba8" fill-opacity="0.95"/>
<path d="M148.53,274.21 A73.8,73.8 0 0 1 221.30,348.39 L218.40,348.37 A70.9,70.9 0 0 0 148.49,277.11 Z" fill="#27a7e0"/>
<path d="M221.21,351.73 A73.8,73.8 0 0 1 167.22,419.12 L166.45,416.32 A70.9,70.9 0 0 0 218.31,351.59 Z" fill="#62b946"/>
<path d="M163.72,419.99 A73.8,73.8 0 0 1 149.17,421.78 L149.11,418.88 A70.9,70.9 0 0 0 163.09,417.17 Z" fill="#f26a21"/>
<path d="M145.95,421.78 A73.8,73.8 0 0 1 140.04,421.42 L140.34,418.54 A70.9,70.9 0 0 0 146.02,418.88 Z" fill="#3fba8a"/>
<path d="M136.08,420.91 A73.8,73.8 0 0 1 107.52,410.03 L109.09,407.60 A70.9,70.9 0 0 0 136.53,418.05 Z" fill="#e2232a"/>
<path d="M104.12,407.71 A73.8,73.8 0 0 1 78.88,375.17 L81.58,374.10 A70.9,70.9 0 0 0 105.83,405.36 Z" fill="#7c4d9f"/>
<path d="M77.64,371.78 A73.8,73.8 0 0 1 77.04,369.95 L79.81,369.08 A70.9,70.9 0 0 0 80.38,370.85 Z" fill="#2e3192"/>
<path d="M75.86,365.73 A73.8,73.8 0 0 1 74.57,359.29 L77.43,358.85 A70.9,70.9 0 0 0 78.68,365.03 Z" fill="#b2cf36"/>
<path d="M74.10,355.71 A73.8,73.8 0 0 1 75.56,331.52 L78.39,332.17 A70.9,70.9 0 0 0 76.99,355.41 Z" fill="#f3d31a"/>
<path d="M76.78,326.92 A73.8,73.8 0 0 1 80.83,316.34 L83.45,317.59 A70.9,70.9 0 0 0 79.55,327.74 Z" fill="#f0812a"/>
<path d="M82.58,312.90 A73.8,73.8 0 0 1 86.10,307.05 L88.51,308.66 A70.9,70.9 0 0 0 85.13,314.28 Z" fill="#f4a51f"/>
<path d="M89.11,302.87 A73.8,73.8 0 0 1 92.40,298.91 L94.56,300.84 A70.9,70.9 0 0 0 91.40,304.64 Z" fill="#a3479b"/>
<path d="M95.32,295.82 A73.8,73.8 0 0 1 96.51,294.65 L98.52,296.74 A70.9,70.9 0 0 0 97.37,297.87 Z" fill="#ee4a24"/>
<path d="M99.67,291.80 A73.8,73.8 0 0 1 117.13,280.74 L118.32,283.38 A70.9,70.9 0 0 0 101.55,294.01 Z" fill="#3d3a95"/>
<path d="M120.81,279.19 A73.8,73.8 0 0 1 133.67,275.51 L134.21,278.36 A70.9,70.9 0 0 0 121.86,281.90 Z" fill="#c4d72f"/>
<path d="M136.97,274.95 A73.8,73.8 0 0 1 144.41,274.26 L144.53,277.16 A70.9,70.9 0 0 0 137.39,277.82 Z" fill="#9a3f97"/>
<path d="M148.49,277.11 A70.9,70.9 0 0 1 149.99,277.14 L149.96,277.94 A70.1,70.1 0 0 0 148.48,277.91 Z" fill="#9a3f97"/>
<path d="M149.99,277.14 A70.9,70.9 0 0 1 156.22,277.64 L156.12,278.43 A70.1,70.1 0 0 0 149.96,277.94 Z" fill="#c4d72f"/>
<path d="M156.22,277.64 A70.9,70.9 0 0 1 161.89,278.58 L161.73,279.36 A70.1,70.1 0 0 0 156.12,278.43 Z" fill="#3d3a95"/>
<path d="M161.89,278.58 A70.9,70.9 0 0 1 162.87,278.79 L162.69,279.57 A70.1,70.1 0 0 0 161.73,279.36 Z" fill="#ee4a24"/>
<path d="M162.87,278.79 A70.9,70.9 0 0 1 164.33,279.13 L164.14,279.90 A70.1,70.1 0 0 0 162.69,279.57 Z" fill="#a3479b"/>
<path d="M164.33,279.13 A70.9,70.9 0 0 1 166.14,279.60 L165.93,280.37 A70.1,70.1 0 0 0 164.14,279.90 Z" fill="#f4a51f"/>
<path d="M166.14,279.60 A70.9,70.9 0 0 1 169.14,280.48 L168.90,281.24 A70.1,70.1 0 0 0 165.93,280.37 Z" fill="#f0812a"/>
<path d="M169.14,280.48 A70.9,70.9 0 0 1 177.85,283.93 L177.51,284.65 A70.1,70.1 0 0 0 168.90,281.24 Z" fill="#f3d31a"/>
<path d="M177.85,283.93 A70.9,70.9 0 0 1 179.54,284.75 L179.17,285.46 A70.1,70.1 0 0 0 177.51,284.65 Z" fill="#b2cf36"/>
<path d="M179.54,284.75 A70.9,70.9 0 0 1 180.42,285.21 L180.05,285.92 A70.1,70.1 0 0 0 179.17,285.46 Z" fill="#2e3192"/>
<path d="M180.42,285.21 A70.9,70.9 0 0 1 194.02,294.49 L193.49,295.10 A70.1,70.1 0 0 0 180.05,285.92 Z" fill="#7c4d9f"/>
<path d="M194.02,294.49 A70.9,70.9 0 0 1 200.42,300.81 L199.82,301.35 A70.1,70.1 0 0 0 193.49,295.10 Z" fill="#e2232a"/>
<path d="M200.42,300.81 A70.9,70.9 0 0 1 202.45,303.19 L201.83,303.70 A70.1,70.1 0 0 0 199.82,301.35 Z" fill="#3fba8a"/>
<path d="M202.45,303.19 A70.9,70.9 0 0 1 206.04,308.00 L205.38,308.45 A70.1,70.1 0 0 0 201.83,303.70 Z" fill="#f26a21"/>
<path d="M206.04,308.00 A70.9,70.9 0 0 1 218.40,348.37 L217.60,348.37 A70.1,70.1 0 0 0 205.38,308.45 Z" fill="#62b946"/>
<path d="M218.31,351.59 A70.9,70.9 0 0 1 218.01,355.40 L217.22,355.32 A70.1,70.1 0 0 0 217.51,351.55 Z" fill="#9a3f97"/>
<path d="M218.01,355.40 A70.9,70.9 0 0 1 217.39,359.92 L216.60,359.79 A70.1,70.1 0 0 0 217.22,355.32 Z" fill="#c4d72f"/>
<path d="M217.39,359.92 A70.9,70.9 0 0 1 216.30,365.12 L215.53,364.92 A70.1,70.1 0 0 0 216.60,359.79 Z" fill="#3d3a95"/>
<path d="M216.30,365.12 A70.9,70.9 0 0 1 215.39,368.45 L214.62,368.22 A70.1,70.1 0 0 0 215.53,364.92 Z" fill="#f4a51f"/>
<path d="M215.39,368.45 A70.9,70.9 0 0 1 214.23,371.96 L213.48,371.69 A70.1,70.1 0 0 0 214.62,368.22 Z" fill="#f0812a"/>
<path d="M214.23,371.96 A70.9,70.9 0 0 1 213.54,373.81 L212.79,373.52 A70.1,70.1 0 0 0 213.48,371.69 Z" fill="#b2cf36"/>
<path d="M213.54,373.81 A70.9,70.9 0 0 1 209.91,381.64 L209.20,381.26 A70.1,70.1 0 0 0 212.79,373.52 Z" fill="#f3d31a"/>
<path d="M209.91,381.64 A70.9,70.9 0 0 1 204.78,389.78 L204.13,389.31 A70.1,70.1 0 0 0 209.20,381.26 Z" fill="#7c4d9f"/>
<path d="M204.78,389.78 A70.9,70.9 0 0 1 201.58,393.85 L200.97,393.34 A70.1,70.1 0 0 0 204.13,389.31 Z" fill="#e2232a"/>
<path d="M163.09,417.17 A70.9,70.9 0 0 1 160.06,417.78 L159.91,416.99 A70.1,70.1 0 0 0 162.91,416.38 Z" fill="#e2232a"/>
<path d="M160.06,417.78 A70.9,70.9 0 0 1 157.00,418.26 L156.89,417.47 A70.1,70.1 0 0 0 159.91,416.99 Z" fill="#7c4d9f"/>
<path d="M157.00,418.26 A70.9,70.9 0 0 1 156.39,418.34 L156.29,417.55 A70.1,70.1 0 0 0 156.89,417.47 Z" fill="#f3d31a"/>
<path d="M156.39,418.34 A70.9,70.9 0 0 1 155.65,418.43 L155.56,417.64 A70.1,70.1 0 0 0 156.29,417.55 Z" fill="#3d3a95"/>
<path d="M155.65,418.43 A70.9,70.9 0 0 1 155.03,418.50 L154.95,417.70 A70.1,70.1 0 0 0 155.56,417.64 Z" fill="#c4d72f"/>
<path d="M155.03,418.50 A70.9,70.9 0 0 1 149.11,418.88 L149.09,418.08 A70.1,70.1 0 0 0 154.95,417.70 Z" fill="#27a7e0"/>
<path d="M146.02,418.88 A70.9,70.9 0 0 1 142.86,418.75 L142.91,417.95 A70.1,70.1 0 0 0 146.03,418.08 Z" fill="#27a7e0"/>
<path d="M142.86,418.75 A70.9,70.9 0 0 1 141.59,418.65 L141.66,417.86 A70.1,70.1 0 0 0 142.91,417.95 Z" fill="#e2232a"/>
<path d="M141.59,418.65 A70.9,70.9 0 0 1 140.34,418.54 L140.42,417.74 A70.1,70.1 0 0 0 141.66,417.86 Z" fill="#7c4d9f"/>
<path d="M136.53,418.05 A70.9,70.9 0 0 1 130.49,416.83 L130.68,416.05 A70.1,70.1 0 0 0 136.65,417.26 Z" fill="#7c4d9f"/>
<path d="M130.49,416.83 A70.9,70.9 0 0 1 129.00,416.44 L129.21,415.67 A70.1,70.1 0 0 0 130.68,416.05 Z" fill="#f26a21"/>
<path d="M129.00,416.44 A70.9,70.9 0 0 1 128.21,416.23 L128.43,415.46 A70.1,70.1 0 0 0 129.21,415.67 Z" fill="#3fba8a"/>
<path d="M128.21,416.23 A70.9,70.9 0 0 1 127.62,416.06 L127.84,415.29 A70.1,70.1 0 0 0 128.43,415.46 Z" fill="#9a3f97"/>
<path d="M127.62,416.06 A70.9,70.9 0 0 1 126.83,415.82 L127.06,415.05 A70.1,70.1 0 0 0 127.84,415.29 Z" fill="#c4d72f"/>
<path d="M126.83,415.82 A70.9,70.9 0 0 1 124.68,415.13 L124.94,414.37 A70.1,70.1 0 0 0 127.06,415.05 Z" fill="#3d3a95"/>
<path d="M124.68,415.13 A70.9,70.9 0 0 1 124.29,414.99 L124.55,414.24 A70.1,70.1 0 0 0 124.94,414.37 Z" fill="#ee4a24"/>
<path d="M124.29,414.99 A70.9,70.9 0 0 1 123.52,414.72 L123.79,413.97 A70.1,70.1 0 0 0 124.55,414.24 Z" fill="#a3479b"/>
<path d="M123.52,414.72 A70.9,70.9 0 0 1 123.13,414.58 L123.41,413.83 A70.1,70.1 0 0 0 123.79,413.97 Z" fill="#f4a51f"/>
<path d="M123.13,414.58 A70.9,70.9 0 0 1 122.17,414.22 L122.45,413.47 A70.1,70.1 0 0 0 123.41,413.83 Z" fill="#f0812a"/>
<path d="M122.17,414.22 A70.9,70.9 0 0 1 121.59,414.00 L121.89,413.25 A70.1,70.1 0 0 0 122.45,413.47 Z" fill="#f3d31a"/>
<path d="M121.59,414.00 A70.9,70.9 0 0 1 121.02,413.77 L121.32,413.03 A70.1,70.1 0 0 0 121.89,413.25 Z" fill="#b2cf36"/>
<path d="M121.02,413.77 A70.9,70.9 0 0 1 120.64,413.62 L120.94,412.88 A70.1,70.1 0 0 0 121.32,413.03 Z" fill="#2e3192"/>
<path d="M120.64,413.62 A70.9,70.9 0 0 1 115.78,411.41 L116.14,410.69 A70.1,70.1 0 0 0 120.94,412.88 Z" fill="#62b946"/>
<path d="M115.78,411.41 A70.9,70.9 0 0 1 109.09,407.60 L109.53,406.92 A70.1,70.1 0 0 0 116.14,410.69 Z" fill="#27a7e0"/>
<path d="M105.83,405.36 A70.9,70.9 0 0 1 101.79,402.20 L102.31,401.59 A70.1,70.1 0 0 0 106.30,404.71 Z" fill="#3d3a95"/>
<path d="M101.79,402.20 A70.9,70.9 0 0 1 101.40,401.87 L101.92,401.26 A70.1,70.1 0 0 0 102.31,401.59 Z" fill="#a3479b"/>
<path d="M101.40,401.87 A70.9,70.9 0 0 1 101.01,401.53 L101.54,400.93 A70.1,70.1 0 0 0 101.92,401.26 Z" fill="#c4d72f"/>
<path d="M101.01,401.53 A70.9,70.9 0 0 1 100.63,401.20 L101.16,400.60 A70.1,70.1 0 0 0 101.54,400.93 Z" fill="#9a3f97"/>
<path d="M100.63,401.20 A70.9,70.9 0 0 1 96.02,396.75 L96.60,396.20 A70.1,70.1 0 0 0 101.16,400.60 Z" fill="#e2232a"/>
<path d="M96.02,396.75 A70.9,70.9 0 0 1 93.87,394.38 L94.48,393.85 A70.1,70.1 0 0 0 96.60,396.20 Z" fill="#f26a21"/>
<path d="M93.87,394.38 A70.9,70.9 0 0 1 93.37,393.79 L93.98,393.28 A70.1,70.1 0 0 0 94.48,393.85 Z" fill="#3fba8a"/>
<path d="M93.37,393.79 A70.9,70.9 0 0 1 92.88,393.20 L93.50,392.69 A70.1,70.1 0 0 0 93.98,393.28 Z" fill="#f0812a"/>
<path d="M92.88,393.20 A70.9,70.9 0 0 1 92.55,392.81 L93.17,392.30 A70.1,70.1 0 0 0 93.50,392.69 Z" fill="#f3d31a"/>
<path d="M92.55,392.81 A70.9,70.9 0 0 1 87.34,385.52 L88.02,385.10 A70.1,70.1 0 0 0 93.17,392.30 Z" fill="#62b946"/>
<path d="M87.34,385.52 A70.9,70.9 0 0 1 81.58,374.10 L82.32,373.81 A70.1,70.1 0 0 0 88.02,385.10 Z" fill="#27a7e0"/>
<path d="M80.38,370.85 A70.9,70.9 0 0 1 80.11,370.03 L80.87,369.78 A70.1,70.1 0 0 0 81.14,370.59 Z" fill="#e2232a"/>
<path d="M80.11,370.03 A70.9,70.9 0 0 1 79.81,369.08 L80.57,368.85 A70.1,70.1 0 0 0 80.87,369.78 Z" fill="#27a7e0"/>
<path d="M78.68,365.03 A70.9,70.9 0 0 1 78.39,363.83 L79.17,363.65 A70.1,70.1 0 0 0 79.45,364.84 Z" fill="#e2232a"/>
<path d="M78.39,363.83 A70.9,70.9 0 0 1 78.12,362.62 L78.91,362.45 A70.1,70.1 0 0 0 79.17,363.65 Z" fill="#f3d31a"/>
<path d="M78.12,362.62 A70.9,70.9 0 0 1 77.74,360.68 L78.53,360.53 A70.1,70.1 0 0 0 78.91,362.45 Z" fill="#62b946"/>
<path d="M77.74,360.68 A70.9,70.9 0 0 1 77.43,358.85 L78.23,358.72 A70.1,70.1 0 0 0 78.53,360.53 Z" fill="#27a7e0"/>
<path d="M76.99,355.41 A70.9,70.9 0 0 1 76.93,354.81 L77.72,354.73 A70.1,70.1 0 0 0 77.78,355.33 Z" fill="#f26a21"/>
<path d="M76.93,354.81 A70.9,70.9 0 0 1 76.87,354.21 L77.67,354.14 A70.1,70.1 0 0 0 77.72,354.73 Z" fill="#7c4d9f"/>
<path d="M76.87,354.21 A70.9,70.9 0 0 1 76.79,353.25 L77.59,353.19 A70.1,70.1 0 0 0 77.67,354.14 Z" fill="#e2232a"/>
<path d="M76.79,353.25 A70.9,70.9 0 0 1 76.72,352.05 L77.51,352.00 A70.1,70.1 0 0 0 77.59,353.19 Z" fill="#b2cf36"/>
<path d="M76.72,352.05 A70.9,70.9 0 0 1 76.67,351.08 L77.47,351.05 A70.1,70.1 0 0 0 77.51,352.00 Z" fill="#f0812a"/>
<path d="M76.67,351.08 A70.9,70.9 0 0 1 76.63,350.12 L77.43,350.10 A70.1,70.1 0 0 0 77.47,351.05 Z" fill="#3d3a95"/>
<path d="M76.63,350.12 A70.9,70.9 0 0 1 77.00,340.49 L77.79,340.57 A70.1,70.1 0 0 0 77.43,350.10 Z" fill="#62b946"/>
<path d="M77.00,340.49 A70.9,70.9 0 0 1 78.39,332.17 L79.17,332.35 A70.1,70.1 0 0 0 77.79,340.57 Z" fill="#27a7e0"/>
<path d="M79.55,327.74 A70.9,70.9 0 0 1 80.08,326.07 L80.84,326.32 A70.1,70.1 0 0 0 80.32,327.97 Z" fill="#e2232a"/>
<path d="M80.08,326.07 A70.9,70.9 0 0 1 80.56,324.63 L81.32,324.89 A70.1,70.1 0 0 0 80.84,326.32 Z" fill="#7c4d9f"/>
<path d="M80.56,324.63 A70.9,70.9 0 0 1 80.96,323.52 L81.71,323.80 A70.1,70.1 0 0 0 81.32,324.89 Z" fill="#f3d31a"/>
<path d="M80.96,323.52 A70.9,70.9 0 0 1 82.25,320.26 L82.99,320.57 A70.1,70.1 0 0 0 81.71,323.80 Z" fill="#62b946"/>
<path d="M82.25,320.26 A70.9,70.9 0 0 1 83.45,317.59 L84.18,317.93 A70.1,70.1 0 0 0 82.99,320.57 Z" fill="#27a7e0"/>
<path d="M85.13,314.28 A70.9,70.9 0 0 1 85.46,313.68 L86.16,314.07 A70.1,70.1 0 0 0 85.84,314.66 Z" fill="#e2232a"/>
<path d="M85.46,313.68 A70.9,70.9 0 0 1 87.40,310.38 L88.08,310.81 A70.1,70.1 0 0 0 86.16,314.07 Z" fill="#62b946"/>
<path d="M87.40,310.38 A70.9,70.9 0 0 1 88.51,308.66 L89.18,309.11 A70.1,70.1 0 0 0 88.08,310.81 Z" fill="#27a7e0"/>
<path d="M91.40,304.64 A70.9,70.9 0 0 1 92.56,303.19 L93.18,303.69 A70.1,70.1 0 0 0 92.04,305.13 Z" fill="#e2232a"/>
<path d="M92.56,303.19 A70.9,70.9 0 0 1 93.15,302.47 L93.76,302.99 A70.1,70.1 0 0 0 93.18,303.69 Z" fill="#7c4d9f"/>
<path d="M93.15,302.47 A70.9,70.9 0 0 1 94.56,300.84 L95.16,301.37 A70.1,70.1 0 0 0 93.76,302.99 Z" fill="#27a7e0"/>
<path d="M97.37,297.87 A70.9,70.9 0 0 1 97.81,297.43 L98.37,298.00 A70.1,70.1 0 0 0 97.93,298.43 Z" fill="#e2232a"/>
<path d="M97.81,297.43 A70.9,70.9 0 0 1 98.52,296.74 L99.07,297.32 A70.1,70.1 0 0 0 98.37,298.00 Z" fill="#27a7e0"/>
<path d="M101.55,294.01 A70.9,70.9 0 0 1 104.52,291.61 L105.01,292.25 A70.1,70.1 0 0 0 102.07,294.62 Z" fill="#7c4d9f"/>
<path d="M104.52,291.61 A70.9,70.9 0 0 1 107.29,289.61 L107.74,290.27 A70.1,70.1 0 0 0 105.01,292.25 Z" fill="#e2232a"/>
<path d="M107.29,289.61 A70.9,70.9 0 0 1 107.96,289.15 L108.41,289.81 A70.1,70.1 0 0 0 107.74,290.27 Z" fill="#f26a21"/>
<path d="M107.96,289.15 A70.9,70.9 0 0 1 108.87,288.55 L109.31,289.22 A70.1,70.1 0 0 0 108.41,289.81 Z" fill="#f3d31a"/>
<path d="M108.87,288.55 A70.9,70.9 0 0 1 112.72,286.21 L113.12,286.91 A70.1,70.1 0 0 0 109.31,289.22 Z" fill="#62b946"/>
<path d="M112.72,286.21 A70.9,70.9 0 0 1 118.32,283.38 L118.65,284.11 A70.1,70.1 0 0 0 113.12,286.91 Z" fill="#27a7e0"/>
<path d="M121.86,281.90 A70.9,70.9 0 0 1 122.79,281.55 L123.07,282.30 A70.1,70.1 0 0 0 122.15,282.64 Z" fill="#f26a21"/>
<path d="M122.79,281.55 A70.9,70.9 0 0 1 123.72,281.21 L123.98,281.96 A70.1,70.1 0 0 0 123.07,282.30 Z" fill="#e2232a"/>
<path d="M123.72,281.21 A70.9,70.9 0 0 1 124.30,281.00 L124.56,281.76 A70.1,70.1 0 0 0 123.98,281.96 Z" fill="#7c4d9f"/>
<path d="M124.30,281.00 A70.9,70.9 0 0 1 127.84,279.88 L128.06,280.65 A70.1,70.1 0 0 0 124.56,281.76 Z" fill="#62b946"/>
<path d="M127.84,279.88 A70.9,70.9 0 0 1 134.21,278.36 L134.36,279.14 A70.1,70.1 0 0 0 128.06,280.65 Z" fill="#27a7e0"/>
<path d="M137.39,277.82 A70.9,70.9 0 0 1 138.21,277.71 L138.31,278.50 A70.1,70.1 0 0 0 137.50,278.62 Z" fill="#e2232a"/>
<path d="M138.21,277.71 A70.9,70.9 0 0 1 138.89,277.62 L138.99,278.42 A70.1,70.1 0 0 0 138.31,278.50 Z" fill="#7c4d9f"/>
<path d="M138.89,277.62 A70.9,70.9 0 0 1 141.36,277.37 L141.43,278.16 A70.1,70.1 0 0 0 138.99,278.42 Z" fill="#62b946"/>
<path d="M141.36,277.37 A70.9,70.9 0 0 1 144.53,277.16 L144.56,277.96 A70.1,70.1 0 0 0 141.43,278.16 Z" fill="#27a7e0"/>
<text x="201.18" y="295.34" font-size="9.2" stroke="#231f20" stroke-width="0.15" textLength="20.22" lengthAdjust="spacingAndGlyphs" transform="rotate(-44.45 201.18 295.34)" dominant-baseline="central">NFE2</text>
<text x="206.19" y="395.02" font-size="9.2" stroke="#231f20" stroke-width="0.15" textLength="18.91" lengthAdjust="spacingAndGlyphs" transform="rotate(38.69999999999999 206.19 395.02)" dominant-baseline="central">JAK2</text>
<text x="156.66" y="422.64" font-size="9.2" stroke="#231f20" stroke-width="0.15" textLength="22.09" lengthAdjust="spacingAndGlyphs" transform="rotate(83.0 156.66 422.64)" dominant-baseline="central">CALR</text>
<text x="142.91" y="423.06" font-size="9.2" text-anchor="end" stroke="#231f20" stroke-width="0.15" textLength="16.27" lengthAdjust="spacingAndGlyphs" transform="rotate(-86.5 142.91 423.06)" dominant-baseline="central">MPL</text>
<text x="120.73" y="418.28" font-size="9.2" text-anchor="end" stroke="#231f20" stroke-width="0.15" textLength="24.63" lengthAdjust="spacingAndGlyphs" transform="rotate(-69.14999999999998 120.73 418.28)" dominant-baseline="central">ASXL1</text>
<text x="88.08" y="394.09" font-size="9.2" text-anchor="end" stroke="#231f20" stroke-width="0.15" textLength="19.34" lengthAdjust="spacingAndGlyphs" transform="rotate(-37.80000000000001 88.08 394.09)" dominant-baseline="central">TET2</text>
<text x="76.00" y="371.30" font-size="9.2" text-anchor="end" stroke="#231f20" stroke-width="0.15" textLength="24.19" lengthAdjust="spacingAndGlyphs" transform="rotate(-18.05000000000001 76.00 371.30)" dominant-baseline="central">SF3B1</text>
<text x="73.77" y="362.80" font-size="9.2" text-anchor="end" stroke="#231f20" stroke-width="0.15" textLength="18.03" lengthAdjust="spacingAndGlyphs" transform="rotate(-11.350000000000023 73.77 362.80)" dominant-baseline="central">IDH2</text>
<text x="72.44" y="343.47" font-size="9.2" text-anchor="end" stroke="#231f20" stroke-width="0.15" textLength="35.18" lengthAdjust="spacingAndGlyphs" transform="rotate(3.4499999999999886 72.44 343.47)" dominant-baseline="central">DNMT3A</text>
<text x="77.29" y="321.05" font-size="9.2" text-anchor="end" stroke="#231f20" stroke-width="0.15" textLength="15.39" lengthAdjust="spacingAndGlyphs" transform="rotate(21.0 77.29 321.05)" dominant-baseline="central">CBL</text>
<text x="83.07" y="309.21" font-size="9.2" text-anchor="end" stroke="#231f20" stroke-width="0.15" textLength="21.11" lengthAdjust="spacingAndGlyphs" transform="rotate(31.049999999999955 83.07 309.21)" dominant-baseline="central">CUX1</text>
<text x="89.64" y="299.96" font-size="9.2" text-anchor="end" stroke="#231f20" stroke-width="0.15" textLength="24.62" lengthAdjust="spacingAndGlyphs" transform="rotate(39.69999999999999 89.64 299.96)" dominant-baseline="central">U2AF1</text>
<text x="94.93" y="294.23" font-size="9.2" text-anchor="end" stroke="#231f20" stroke-width="0.15" textLength="21.10" lengthAdjust="spacingAndGlyphs" transform="rotate(45.64999999999998 94.93 294.23)" dominant-baseline="central">BRAF</text>
<text x="107.26" y="284.47" font-size="9.2" text-anchor="end" stroke="#231f20" stroke-width="0.15" textLength="25.07" lengthAdjust="spacingAndGlyphs" transform="rotate(57.64999999999998 107.26 284.47)" dominant-baseline="central">SH2B3</text>
<text x="126.77" y="275.71" font-size="9.2" text-anchor="end" stroke="#231f20" stroke-width="0.15" textLength="20.22" lengthAdjust="spacingAndGlyphs" transform="rotate(74.0 126.77 275.71)" dominant-baseline="central">EZH2</text>
<text x="140.55" y="273.12" font-size="9.2" text-anchor="end" stroke="#231f20" stroke-width="0.15" textLength="18.91" lengthAdjust="spacingAndGlyphs" transform="rotate(84.70000000000005 140.55 273.12)" dominant-baseline="central">TP53</text>
<text x="272.40" y="263.20" font-size="10" font-weight="bold" stroke="#231f20" stroke-width="0.55">E</text>
<line x1="335.60" y1="254.20" x2="335.60" y2="364.80" stroke="#231f20" stroke-width="1.5"/>
<line x1="334.85" y1="364.10" x2="511.30" y2="364.10" stroke="#231f20" stroke-width="1.5"/>
<line x1="333.40" y1="261.20" x2="335.60" y2="261.20" stroke="#231f20" stroke-width="1.1"/>
<text x="330.90" y="264.10" font-size="8.0" text-anchor="end" stroke="#231f20" stroke-width="0.15" textLength="15.00" lengthAdjust="spacingAndGlyphs">1.00</text>
<line x1="333.40" y1="285.90" x2="335.60" y2="285.90" stroke="#231f20" stroke-width="1.1"/>
<text x="330.90" y="288.80" font-size="8.0" text-anchor="end" stroke="#231f20" stroke-width="0.15" textLength="15.00" lengthAdjust="spacingAndGlyphs">0.75</text>
<line x1="333.40" y1="310.60" x2="335.60" y2="310.60" stroke="#231f20" stroke-width="1.1"/>
<text x="330.90" y="313.50" font-size="8.0" text-anchor="end" stroke="#231f20" stroke-width="0.15" textLength="15.00" lengthAdjust="spacingAndGlyphs">0.50</text>
<line x1="333.40" y1="335.30" x2="335.60" y2="335.30" stroke="#231f20" stroke-width="1.1"/>
<text x="330.90" y="338.20" font-size="8.0" text-anchor="end" stroke="#231f20" stroke-width="0.15" textLength="15.00" lengthAdjust="spacingAndGlyphs">0.25</text>
<line x1="333.40" y1="360.00" x2="335.60" y2="360.00" stroke="#231f20" stroke-width="1.1"/>
<text x="330.90" y="362.90" font-size="8.0" text-anchor="end" stroke="#231f20" stroke-width="0.15" textLength="3.90" lengthAdjust="spacingAndGlyphs">0</text>
<line x1="340.00" y1="364.10" x2="340.00" y2="366.80" stroke="#231f20" stroke-width="1.1"/>
<text x="340.00" y="375.30" font-size="8.0" text-anchor="middle" stroke="#231f20" stroke-width="0.15" textLength="3.80" lengthAdjust="spacingAndGlyphs">0</text>
<line x1="355.72" y1="364.10" x2="355.72" y2="366.80" stroke="#231f20" stroke-width="1.1"/>
<text x="355.72" y="375.30" font-size="8.0" text-anchor="middle" stroke="#231f20" stroke-width="0.15" textLength="3.80" lengthAdjust="spacingAndGlyphs">5</text>
<line x1="371.44" y1="364.10" x2="371.44" y2="366.80" stroke="#231f20" stroke-width="1.1"/>
<text x="371.44" y="375.30" font-size="8.0" text-anchor="middle" stroke="#231f20" stroke-width="0.15" textLength="7.70" lengthAdjust="spacingAndGlyphs">10</text>
<line x1="387.16" y1="364.10" x2="387.16" y2="366.80" stroke="#231f20" stroke-width="1.1"/>
<text x="387.16" y="375.30" font-size="8.0" text-anchor="middle" stroke="#231f20" stroke-width="0.15" textLength="7.70" lengthAdjust="spacingAndGlyphs">15</text>
<line x1="402.88" y1="364.10" x2="402.88" y2="366.80" stroke="#231f20" stroke-width="1.1"/>
<text x="402.88" y="375.30" font-size="8.0" text-anchor="middle" stroke="#231f20" stroke-width="0.15" textLength="7.70" lengthAdjust="spacingAndGlyphs">20</text>
<line x1="418.60" y1="364.10" x2="418.60" y2="366.80" stroke="#231f20" stroke-width="1.1"/>
<text x="418.60" y="375.30" font-size="8.0" text-anchor="middle" stroke="#231f20" stroke-width="0.15" textLength="7.70" lengthAdjust="spacingAndGlyphs">25</text>
<line x1="434.32" y1="364.10" x2="434.32" y2="366.80" stroke="#231f20" stroke-width="1.1"/>
<text x="434.32" y="375.30" font-size="8.0" text-anchor="middle" stroke="#231f20" stroke-width="0.15" textLength="7.70" lengthAdjust="spacingAndGlyphs">30</text>
<line x1="450.04" y1="364.10" x2="450.04" y2="366.80" stroke="#231f20" stroke-width="1.1"/>
<text x="450.04" y="375.30" font-size="8.0" text-anchor="middle" stroke="#231f20" stroke-width="0.15" textLength="7.70" lengthAdjust="spacingAndGlyphs">35</text>
<line x1="465.76" y1="364.10" x2="465.76" y2="366.80" stroke="#231f20" stroke-width="1.1"/>
<text x="465.76" y="375.30" font-size="8.0" text-anchor="middle" stroke="#231f20" stroke-width="0.15" textLength="7.70" lengthAdjust="spacingAndGlyphs">40</text>
<line x1="481.48" y1="364.10" x2="481.48" y2="366.80" stroke="#231f20" stroke-width="1.1"/>
<text x="481.48" y="375.30" font-size="8.0" text-anchor="middle" stroke="#231f20" stroke-width="0.15" textLength="7.70" lengthAdjust="spacingAndGlyphs">45</text>
<text x="311.00" y="309.00" font-size="8.5" text-anchor="middle" stroke="#231f20" stroke-width="0.15" textLength="109.80" lengthAdjust="spacingAndGlyphs" transform="rotate(-90 311.00 309.00)">Transformation free survival (TFS)</text>
<text x="423.40" y="387.30" font-size="9.6" text-anchor="middle" stroke="#231f20" stroke-width="0.15" textLength="108.40" lengthAdjust="spacingAndGlyphs">Time from MPN diagnosis (years)</text>
<line x1="443.50" y1="261.90" x2="454.60" y2="261.90" stroke="#c8102e" stroke-width="1.9"/>
<text x="456.50" y="264.20" font-size="7.2" stroke="#231f20" stroke-width="0.15" textLength="38.50" lengthAdjust="spacingAndGlyphs">NFE2 mutation</text>
<line x1="443.50" y1="270.60" x2="454.60" y2="270.60" stroke="#1f5d9c" stroke-width="1.9"/>
<text x="456.50" y="272.90" font-size="7.2" stroke="#231f20" stroke-width="0.15" textLength="47.50" lengthAdjust="spacingAndGlyphs">No NFE2 mutation</text>
<path d="M339.8,260.1 L354.2,262.0 L367.7,264.0 L378.0,266.1 L392.0,266.5 L400.0,267.3 L408.0,269.1 L413.0,270.9 L417.0,273.1 L420.6,275.5 L423.5,278.3 L425.6,280.6 L508.0,280.6" fill="none" stroke="#1f5d9c" stroke-width="1.5"/>
<path d="M339.8,259.1 L354.2,261.0 L367.7,263.0 L378.0,265.1 L392.0,265.5 L400.0,266.3 L408.0,268.1 L413.0,269.9 L417.0,272.1 L420.6,274.5 L423.5,277.3 L425.6,279.6" fill="none" stroke="#111" stroke-width="1.7"/>
<line x1="429.00" y1="278.30" x2="429.00" y2="280.00" stroke="#111" stroke-width="0.9"/>
<line x1="430.50" y1="278.30" x2="430.50" y2="280.00" stroke="#111" stroke-width="0.9"/>
<line x1="432.50" y1="278.30" x2="432.50" y2="280.00" stroke="#111" stroke-width="0.9"/>
<line x1="434.50" y1="278.30" x2="434.50" y2="280.00" stroke="#111" stroke-width="0.9"/>
<line x1="436.00" y1="278.30" x2="436.00" y2="280.00" stroke="#111" stroke-width="0.9"/>
<line x1="437.50" y1="278.30" x2="437.50" y2="280.00" stroke="#111" stroke-width="0.9"/>
<line x1="439.00" y1="278.30" x2="439.00" y2="280.00" stroke="#111" stroke-width="0.9"/>
<line x1="441.50" y1="278.30" x2="441.50" y2="280.00" stroke="#111" stroke-width="0.9"/>
<line x1="443.00" y1="278.30" x2="443.00" y2="280.00" stroke="#111" stroke-width="0.9"/>
<line x1="444.50" y1="278.30" x2="444.50" y2="280.00" stroke="#111" stroke-width="0.9"/>
<line x1="446.00" y1="278.30" x2="446.00" y2="280.00" stroke="#111" stroke-width="0.9"/>
<line x1="448.00" y1="278.30" x2="448.00" y2="280.00" stroke="#111" stroke-width="0.9"/>
<line x1="451.00" y1="278.30" x2="451.00" y2="280.00" stroke="#111" stroke-width="0.9"/>
<line x1="454.00" y1="278.30" x2="454.00" y2="280.00" stroke="#111" stroke-width="0.9"/>
<line x1="457.50" y1="278.30" x2="457.50" y2="280.00" stroke="#111" stroke-width="0.9"/>
<line x1="461.00" y1="278.30" x2="461.00" y2="280.00" stroke="#111" stroke-width="0.9"/>
<line x1="464.00" y1="278.30" x2="464.00" y2="280.00" stroke="#111" stroke-width="0.9"/>
<line x1="471.00" y1="278.30" x2="471.00" y2="280.00" stroke="#111" stroke-width="0.9"/>
<line x1="478.00" y1="278.30" x2="478.00" y2="280.00" stroke="#111" stroke-width="0.9"/>
<line x1="486.00" y1="278.30" x2="486.00" y2="280.00" stroke="#111" stroke-width="0.9"/>
<line x1="508.00" y1="278.30" x2="508.00" y2="280.00" stroke="#111" stroke-width="0.9"/>
<path d="M339.80,261.20 H367.30 V277.90 H371.50 V294.20 H376.50 V303.50 H396.00 V331.40 H405.40 V345.60 H442.50 V345.60" fill="none" stroke="#c8102e" stroke-width="1.5"/>
<line x1="381.00" y1="302.00" x2="381.00" y2="303.50" stroke="#111" stroke-width="0.9"/>
<line x1="383.00" y1="302.00" x2="383.00" y2="303.50" stroke="#111" stroke-width="0.9"/>
<line x1="385.00" y1="302.00" x2="385.00" y2="303.50" stroke="#111" stroke-width="0.9"/>
<line x1="388.00" y1="302.00" x2="388.00" y2="303.50" stroke="#111" stroke-width="0.9"/>
<line x1="390.00" y1="302.00" x2="390.00" y2="303.50" stroke="#111" stroke-width="0.9"/>
<line x1="431.00" y1="344.00" x2="431.00" y2="345.60" stroke="#111" stroke-width="0.9"/>
<line x1="433.00" y1="344.00" x2="433.00" y2="345.60" stroke="#111" stroke-width="0.9"/>
<line x1="442.50" y1="344.00" x2="442.50" y2="345.60" stroke="#111" stroke-width="0.9"/>
<text x="438.00" y="336.80" font-size="6" text-anchor="middle" stroke="#231f20" stroke-width="0.15">*</text>
<text x="441.20" y="338.00" font-size="7.4" stroke="#231f20" stroke-width="0.15">p &lt;0.001</text>
<text x="280.70" y="399.40" font-size="7.4" textLength="48.50" lengthAdjust="spacingAndGlyphs">Number at risk</text>
<text x="267.50" y="409.90" font-size="7.4" textLength="61.75" lengthAdjust="spacingAndGlyphs">No NFE2 mutation</text>
<text x="279.50" y="419.30" font-size="7.4" textLength="49.75" lengthAdjust="spacingAndGlyphs">NFE2 mutation</text>
<text x="340.00" y="409.90" font-size="7.4" text-anchor="middle">696</text>
<text x="340.00" y="419.30" font-size="7.4" text-anchor="middle">2</text>
<text x="355.72" y="409.90" font-size="7.4" text-anchor="middle">519</text>
<text x="355.72" y="419.30" font-size="7.4" text-anchor="middle">3</text>
<text x="371.44" y="409.90" font-size="7.4" text-anchor="middle">324</text>
<text x="371.44" y="419.30" font-size="7.4" text-anchor="middle">4</text>
<text x="387.16" y="409.90" font-size="7.4" text-anchor="middle">160</text>
<text x="387.16" y="419.30" font-size="7.4" text-anchor="middle">6</text>
<text x="402.88" y="409.90" font-size="7.4" text-anchor="middle">90</text>
<text x="402.88" y="419.30" font-size="7.4" text-anchor="middle">2</text>
<text x="418.60" y="409.90" font-size="7.4" text-anchor="middle">53</text>
<text x="418.60" y="419.30" font-size="7.4" text-anchor="middle">0</text>
<text x="434.32" y="409.90" font-size="7.4" text-anchor="middle">25</text>
<text x="434.32" y="419.30" font-size="7.4" text-anchor="middle">1</text>
<text x="450.04" y="409.90" font-size="7.4" text-anchor="middle">7</text>
<text x="450.04" y="419.30" font-size="7.4" text-anchor="middle">0</text>
<text x="465.76" y="409.90" font-size="7.4" text-anchor="middle">3</text>
<text x="465.76" y="419.30" font-size="7.4" text-anchor="middle">0</text>
<text x="481.48" y="409.90" font-size="7.4" text-anchor="middle">1</text>
<text x="481.48" y="419.30" font-size="7.4" text-anchor="middle">0</text>
<text x="11.70" y="476.80" font-size="10" font-weight="bold" stroke="#231f20" stroke-width="0.55">F</text>
<line x1="67.50" y1="468.00" x2="67.50" y2="578.20" stroke="#231f20" stroke-width="1.5"/>
<line x1="66.75" y1="577.50" x2="243.80" y2="577.50" stroke="#231f20" stroke-width="1.5"/>
<line x1="65.00" y1="471.95" x2="67.50" y2="471.95" stroke="#231f20" stroke-width="1.1"/>
<text x="62.20" y="474.85" font-size="8.0" text-anchor="end" stroke="#231f20" stroke-width="0.15" textLength="14.60" lengthAdjust="spacingAndGlyphs">1.00</text>
<line x1="65.00" y1="497.52" x2="67.50" y2="497.52" stroke="#231f20" stroke-width="1.1"/>
<text x="62.20" y="500.42" font-size="8.0" text-anchor="end" stroke="#231f20" stroke-width="0.15" textLength="14.60" lengthAdjust="spacingAndGlyphs">0.75</text>
<line x1="65.00" y1="523.10" x2="67.50" y2="523.10" stroke="#231f20" stroke-width="1.1"/>
<text x="62.20" y="526.00" font-size="8.0" text-anchor="end" stroke="#231f20" stroke-width="0.15" textLength="14.60" lengthAdjust="spacingAndGlyphs">0.50</text>
<line x1="65.00" y1="548.67" x2="67.50" y2="548.67" stroke="#231f20" stroke-width="1.1"/>
<text x="62.20" y="551.57" font-size="8.0" text-anchor="end" stroke="#231f20" stroke-width="0.15" textLength="14.60" lengthAdjust="spacingAndGlyphs">0.25</text>
<line x1="65.00" y1="574.25" x2="67.50" y2="574.25" stroke="#231f20" stroke-width="1.1"/>
<text x="62.20" y="577.15" font-size="8.0" text-anchor="end" stroke="#231f20" stroke-width="0.15" textLength="3.90" lengthAdjust="spacingAndGlyphs">0</text>
<line x1="71.50" y1="577.50" x2="71.50" y2="580.40" stroke="#231f20" stroke-width="1.1"/>
<text x="71.50" y="589.20" font-size="8.0" text-anchor="middle" stroke="#231f20" stroke-width="0.15" textLength="3.80" lengthAdjust="spacingAndGlyphs">0</text>
<line x1="85.50" y1="577.50" x2="85.50" y2="580.40" stroke="#231f20" stroke-width="1.1"/>
<text x="85.50" y="589.20" font-size="8.0" text-anchor="middle" stroke="#231f20" stroke-width="0.15" textLength="3.80" lengthAdjust="spacingAndGlyphs">1</text>
<line x1="99.50" y1="577.50" x2="99.50" y2="580.40" stroke="#231f20" stroke-width="1.1"/>
<text x="99.50" y="589.20" font-size="8.0" text-anchor="middle" stroke="#231f20" stroke-width="0.15" textLength="3.80" lengthAdjust="spacingAndGlyphs">2</text>
<line x1="113.50" y1="577.50" x2="113.50" y2="580.40" stroke="#231f20" stroke-width="1.1"/>
<text x="113.50" y="589.20" font-size="8.0" text-anchor="middle" stroke="#231f20" stroke-width="0.15" textLength="3.80" lengthAdjust="spacingAndGlyphs">3</text>
<line x1="127.50" y1="577.50" x2="127.50" y2="580.40" stroke="#231f20" stroke-width="1.1"/>
<text x="127.50" y="589.20" font-size="8.0" text-anchor="middle" stroke="#231f20" stroke-width="0.15" textLength="3.80" lengthAdjust="spacingAndGlyphs">4</text>
<line x1="141.50" y1="577.50" x2="141.50" y2="580.40" stroke="#231f20" stroke-width="1.1"/>
<text x="141.50" y="589.20" font-size="8.0" text-anchor="middle" stroke="#231f20" stroke-width="0.15" textLength="3.80" lengthAdjust="spacingAndGlyphs">5</text>
<line x1="155.50" y1="577.50" x2="155.50" y2="580.40" stroke="#231f20" stroke-width="1.1"/>
<text x="155.50" y="589.20" font-size="8.0" text-anchor="middle" stroke="#231f20" stroke-width="0.15" textLength="3.80" lengthAdjust="spacingAndGlyphs">6</text>
<line x1="169.50" y1="577.50" x2="169.50" y2="580.40" stroke="#231f20" stroke-width="1.1"/>
<text x="169.50" y="589.20" font-size="8.0" text-anchor="middle" stroke="#231f20" stroke-width="0.15" textLength="3.80" lengthAdjust="spacingAndGlyphs">7</text>
<line x1="183.50" y1="577.50" x2="183.50" y2="580.40" stroke="#231f20" stroke-width="1.1"/>
<text x="183.50" y="589.20" font-size="8.0" text-anchor="middle" stroke="#231f20" stroke-width="0.15" textLength="3.80" lengthAdjust="spacingAndGlyphs">8</text>
<line x1="197.50" y1="577.50" x2="197.50" y2="580.40" stroke="#231f20" stroke-width="1.1"/>
<text x="197.50" y="589.20" font-size="8.0" text-anchor="middle" stroke="#231f20" stroke-width="0.15" textLength="3.80" lengthAdjust="spacingAndGlyphs">9</text>
<line x1="211.50" y1="577.50" x2="211.50" y2="580.40" stroke="#231f20" stroke-width="1.1"/>
<text x="211.50" y="589.20" font-size="8.0" text-anchor="middle" stroke="#231f20" stroke-width="0.15" textLength="7.80" lengthAdjust="spacingAndGlyphs">10</text>
<line x1="225.50" y1="577.50" x2="225.50" y2="580.40" stroke="#231f20" stroke-width="1.1"/>
<text x="225.50" y="589.20" font-size="8.0" text-anchor="middle" stroke="#231f20" stroke-width="0.15" textLength="7.80" lengthAdjust="spacingAndGlyphs">11</text>
<line x1="239.50" y1="577.50" x2="239.50" y2="580.40" stroke="#231f20" stroke-width="1.1"/>
<text x="239.50" y="589.20" font-size="8.0" text-anchor="middle" stroke="#231f20" stroke-width="0.15" textLength="7.80" lengthAdjust="spacingAndGlyphs">12</text>
<text x="43.20" y="523.10" font-size="8.5" text-anchor="middle" stroke="#231f20" stroke-width="0.15" textLength="108.70" lengthAdjust="spacingAndGlyphs" transform="rotate(-90 43.20 523.10)">Transformation free survival (TFS)</text>
<text x="155.95" y="601.30" font-size="9.6" text-anchor="middle" stroke="#231f20" stroke-width="0.15" textLength="109.30" lengthAdjust="spacingAndGlyphs">Time from NFE2 detection (years)</text>
<line x1="176.20" y1="475.50" x2="186.00" y2="475.50" stroke="#c8102e" stroke-width="1.9"/>
<text x="187.90" y="477.80" font-size="7.0" stroke="#231f20" stroke-width="0.15" textLength="39.10" lengthAdjust="spacingAndGlyphs">NFE2 mutation</text>
<path d="M71.20,472.00 H72.20 V474.50 H93.60 V479.80 H100.90 V491.40 H206.90 V519.00 H227.40 V519.00" fill="none" stroke="#c8102e" stroke-width="1.5"/>
<line x1="78.20" y1="473.00" x2="78.20" y2="474.50" stroke="#111" stroke-width="0.9"/>
<line x1="80.20" y1="473.00" x2="80.20" y2="474.50" stroke="#111" stroke-width="0.9"/>
<line x1="82.20" y1="473.00" x2="82.20" y2="474.50" stroke="#111" stroke-width="0.9"/>
<line x1="84.20" y1="473.00" x2="84.20" y2="474.50" stroke="#111" stroke-width="0.9"/>
<line x1="86.20" y1="473.00" x2="86.20" y2="474.50" stroke="#111" stroke-width="0.9"/>
<line x1="88.20" y1="473.00" x2="88.20" y2="474.50" stroke="#111" stroke-width="0.9"/>
<line x1="90.20" y1="473.00" x2="90.20" y2="474.50" stroke="#111" stroke-width="0.9"/>
<line x1="95.00" y1="478.30" x2="95.00" y2="479.80" stroke="#111" stroke-width="0.9"/>
<line x1="108.40" y1="489.90" x2="108.40" y2="491.40" stroke="#111" stroke-width="0.9"/>
<line x1="112.70" y1="489.90" x2="112.70" y2="491.40" stroke="#111" stroke-width="0.9"/>
<line x1="117.60" y1="489.90" x2="117.60" y2="491.40" stroke="#111" stroke-width="0.9"/>
<line x1="121.70" y1="489.90" x2="121.70" y2="491.40" stroke="#111" stroke-width="0.9"/>
<line x1="124.50" y1="489.90" x2="124.50" y2="491.40" stroke="#111" stroke-width="0.9"/>
<line x1="130.00" y1="489.90" x2="130.00" y2="491.40" stroke="#111" stroke-width="0.9"/>
<line x1="152.90" y1="489.90" x2="152.90" y2="491.40" stroke="#111" stroke-width="0.9"/>
<line x1="213.00" y1="517.50" x2="213.00" y2="519.00" stroke="#111" stroke-width="0.9"/>
<line x1="227.40" y1="517.50" x2="227.40" y2="519.00" stroke="#111" stroke-width="0.9"/>
<text x="11.30" y="613.00" font-size="7.4" textLength="48.70" lengthAdjust="spacingAndGlyphs">Number at risk</text>
<text x="11.30" y="622.50" font-size="7.4">NFE2 mutation</text>
<text x="71.50" y="623.00" font-size="7.4" text-anchor="middle">34</text>
<text x="85.50" y="623.00" font-size="7.4" text-anchor="middle">25</text>
<text x="99.50" y="623.00" font-size="7.4" text-anchor="middle">16</text>
<text x="113.50" y="623.00" font-size="7.4" text-anchor="middle">10</text>
<text x="127.50" y="623.00" font-size="7.4" text-anchor="middle">5</text>
<text x="141.50" y="623.00" font-size="7.4" text-anchor="middle">4</text>
<text x="155.50" y="623.00" font-size="7.4" text-anchor="middle">3</text>
<text x="169.50" y="623.00" font-size="7.4" text-anchor="middle">3</text>
<text x="183.50" y="623.00" font-size="7.4" text-anchor="middle">3</text>
<text x="197.50" y="623.00" font-size="7.4" text-anchor="middle">3</text>
<text x="211.50" y="623.00" font-size="7.4" text-anchor="middle">2</text>
<text x="225.50" y="623.00" font-size="7.4" text-anchor="middle">1</text>
<text x="239.50" y="623.00" font-size="7.4" text-anchor="middle">0</text>
<text x="271.90" y="476.70" font-size="10.5" font-weight="bold" stroke="#231f20" stroke-width="0.55">G</text>
<line x1="335.75" y1="468.75" x2="335.75" y2="577.20" stroke="#231f20" stroke-width="1.5"/>
<line x1="335.00" y1="576.50" x2="512.00" y2="576.50" stroke="#231f20" stroke-width="1.5"/>
<line x1="333.40" y1="475.00" x2="335.75" y2="475.00" stroke="#231f20" stroke-width="1.1"/>
<text x="330.70" y="477.90" font-size="8.0" text-anchor="end" stroke="#231f20" stroke-width="0.15" textLength="15.20" lengthAdjust="spacingAndGlyphs">1.00</text>
<line x1="333.40" y1="499.56" x2="335.75" y2="499.56" stroke="#231f20" stroke-width="1.1"/>
<text x="330.70" y="502.46" font-size="8.0" text-anchor="end" stroke="#231f20" stroke-width="0.15" textLength="15.20" lengthAdjust="spacingAndGlyphs">0.75</text>
<line x1="333.40" y1="524.12" x2="335.75" y2="524.12" stroke="#231f20" stroke-width="1.1"/>
<text x="330.70" y="527.02" font-size="8.0" text-anchor="end" stroke="#231f20" stroke-width="0.15" textLength="15.20" lengthAdjust="spacingAndGlyphs">0.50</text>
<line x1="333.40" y1="548.69" x2="335.75" y2="548.69" stroke="#231f20" stroke-width="1.1"/>
<text x="330.70" y="551.59" font-size="8.0" text-anchor="end" stroke="#231f20" stroke-width="0.15" textLength="15.20" lengthAdjust="spacingAndGlyphs">0.25</text>
<line x1="333.40" y1="573.25" x2="335.75" y2="573.25" stroke="#231f20" stroke-width="1.1"/>
<text x="330.70" y="576.15" font-size="8.0" text-anchor="end" stroke="#231f20" stroke-width="0.15" textLength="3.90" lengthAdjust="spacingAndGlyphs">0</text>
<line x1="340.00" y1="576.50" x2="340.00" y2="579.20" stroke="#231f20" stroke-width="1.1"/>
<text x="340.00" y="589.20" font-size="8.0" text-anchor="middle" stroke="#231f20" stroke-width="0.15" textLength="3.80" lengthAdjust="spacingAndGlyphs">0</text>
<line x1="355.67" y1="576.50" x2="355.67" y2="579.20" stroke="#231f20" stroke-width="1.1"/>
<text x="355.67" y="589.20" font-size="8.0" text-anchor="middle" stroke="#231f20" stroke-width="0.15" textLength="3.80" lengthAdjust="spacingAndGlyphs">5</text>
<line x1="371.34" y1="576.50" x2="371.34" y2="579.20" stroke="#231f20" stroke-width="1.1"/>
<text x="371.34" y="589.20" font-size="8.0" text-anchor="middle" stroke="#231f20" stroke-width="0.15" textLength="7.70" lengthAdjust="spacingAndGlyphs">10</text>
<line x1="387.01" y1="576.50" x2="387.01" y2="579.20" stroke="#231f20" stroke-width="1.1"/>
<text x="387.01" y="589.20" font-size="8.0" text-anchor="middle" stroke="#231f20" stroke-width="0.15" textLength="7.70" lengthAdjust="spacingAndGlyphs">15</text>
<line x1="402.68" y1="576.50" x2="402.68" y2="579.20" stroke="#231f20" stroke-width="1.1"/>
<text x="402.68" y="589.20" font-size="8.0" text-anchor="middle" stroke="#231f20" stroke-width="0.15" textLength="7.70" lengthAdjust="spacingAndGlyphs">20</text>
<line x1="418.35" y1="576.50" x2="418.35" y2="579.20" stroke="#231f20" stroke-width="1.1"/>
<text x="418.35" y="589.20" font-size="8.0" text-anchor="middle" stroke="#231f20" stroke-width="0.15" textLength="7.70" lengthAdjust="spacingAndGlyphs">25</text>
<line x1="434.02" y1="576.50" x2="434.02" y2="579.20" stroke="#231f20" stroke-width="1.1"/>
<text x="434.02" y="589.20" font-size="8.0" text-anchor="middle" stroke="#231f20" stroke-width="0.15" textLength="7.70" lengthAdjust="spacingAndGlyphs">30</text>
<line x1="449.69" y1="576.50" x2="449.69" y2="579.20" stroke="#231f20" stroke-width="1.1"/>
<text x="449.69" y="589.20" font-size="8.0" text-anchor="middle" stroke="#231f20" stroke-width="0.15" textLength="7.70" lengthAdjust="spacingAndGlyphs">35</text>
<line x1="465.36" y1="576.50" x2="465.36" y2="579.20" stroke="#231f20" stroke-width="1.1"/>
<text x="465.36" y="589.20" font-size="8.0" text-anchor="middle" stroke="#231f20" stroke-width="0.15" textLength="7.70" lengthAdjust="spacingAndGlyphs">40</text>
<line x1="481.03" y1="576.50" x2="481.03" y2="579.20" stroke="#231f20" stroke-width="1.1"/>
<text x="481.03" y="589.20" font-size="8.0" text-anchor="middle" stroke="#231f20" stroke-width="0.15" textLength="7.70" lengthAdjust="spacingAndGlyphs">45</text>
<text x="311.60" y="522.50" font-size="8.5" text-anchor="middle" stroke="#231f20" stroke-width="0.15" textLength="67.50" lengthAdjust="spacingAndGlyphs" transform="rotate(-90 311.60 522.50)">Overall Survival (OS)</text>
<text x="424.10" y="600.50" font-size="9.6" text-anchor="middle" stroke="#231f20" stroke-width="0.15" textLength="109.20" lengthAdjust="spacingAndGlyphs">Time from MPN diagnosis (years)</text>
<line x1="444.00" y1="475.60" x2="454.40" y2="475.60" stroke="#c8102e" stroke-width="1.9"/>
<text x="456.10" y="477.90" font-size="7.2" stroke="#231f20" stroke-width="0.15" textLength="38.80" lengthAdjust="spacingAndGlyphs">NFE2 mutation</text>
<line x1="444.00" y1="484.20" x2="454.40" y2="484.20" stroke="#1f5d9c" stroke-width="1.9"/>
<text x="456.10" y="486.50" font-size="7.2" stroke="#231f20" stroke-width="0.15" textLength="48.50" lengthAdjust="spacingAndGlyphs">No NFE2 mutation</text>
<path d="M340.2,474.1 L355.0,476.5 L369.6,479.7 L382.0,483.0 L393.8,487.5 L404.0,492.5 L410.0,495.0 L415.0,499.1 L425.0,503.5 L431.9,506.0 L438.8,507.7 V514.2 H449.2 V518.7 H508" fill="none" stroke="#1f5d9c" stroke-width="1.5"/>
<path d="M340.2,473.1 L355.0,475.5 L369.6,478.7 L382.0,482.0 L393.8,486.5 L404.0,491.5 L410.0,494.0 L415.0,498.1 L425.0,502.5 L431.9,505.0 L438.8,506.7" fill="none" stroke="#111" stroke-width="1.7"/>
<line x1="441.00" y1="512.20" x2="441.00" y2="513.90" stroke="#111" stroke-width="0.9"/>
<line x1="443.00" y1="512.20" x2="443.00" y2="513.90" stroke="#111" stroke-width="0.9"/>
<line x1="445.00" y1="512.20" x2="445.00" y2="513.90" stroke="#111" stroke-width="0.9"/>
<line x1="447.00" y1="512.20" x2="447.00" y2="513.90" stroke="#111" stroke-width="0.9"/>
<line x1="454.00" y1="516.80" x2="454.00" y2="518.50" stroke="#111" stroke-width="0.9"/>
<line x1="458.00" y1="516.80" x2="458.00" y2="518.50" stroke="#111" stroke-width="0.9"/>
<line x1="462.00" y1="516.80" x2="462.00" y2="518.50" stroke="#111" stroke-width="0.9"/>
<line x1="467.00" y1="516.80" x2="467.00" y2="518.50" stroke="#111" stroke-width="0.9"/>
<line x1="476.00" y1="516.80" x2="476.00" y2="518.50" stroke="#111" stroke-width="0.9"/>
<line x1="494.00" y1="516.80" x2="494.00" y2="518.50" stroke="#111" stroke-width="0.9"/>
<line x1="508.00" y1="516.80" x2="508.00" y2="518.50" stroke="#111" stroke-width="0.9"/>
<path d="M340.00,474.30 H347.50 V494.50 H348.75 V513.75 H370.00 V522.50 H377.50 V536.75 H383.75 V540.75 H396.60 V557.00 H406.60 V573.20 H442.30 V573.20" fill="none" stroke="#c8102e" stroke-width="1.5"/>
<line x1="352.80" y1="512.15" x2="352.80" y2="513.75" stroke="#111" stroke-width="0.9"/>
<line x1="354.10" y1="512.15" x2="354.10" y2="513.75" stroke="#111" stroke-width="0.9"/>
<line x1="356.80" y1="512.15" x2="356.80" y2="513.75" stroke="#111" stroke-width="0.9"/>
<line x1="360.20" y1="512.15" x2="360.20" y2="513.75" stroke="#111" stroke-width="0.9"/>
<line x1="370.70" y1="520.90" x2="370.70" y2="522.50" stroke="#111" stroke-width="0.9"/>
<line x1="375.30" y1="520.90" x2="375.30" y2="522.50" stroke="#111" stroke-width="0.9"/>
<line x1="377.00" y1="520.90" x2="377.00" y2="522.50" stroke="#111" stroke-width="0.9"/>
<line x1="379.00" y1="535.15" x2="379.00" y2="536.75" stroke="#111" stroke-width="0.9"/>
<line x1="385.00" y1="539.15" x2="385.00" y2="540.75" stroke="#111" stroke-width="0.9"/>
<line x1="388.50" y1="539.15" x2="388.50" y2="540.75" stroke="#111" stroke-width="0.9"/>
<line x1="391.80" y1="539.15" x2="391.80" y2="540.75" stroke="#111" stroke-width="0.9"/>
<line x1="393.20" y1="539.15" x2="393.20" y2="540.75" stroke="#111" stroke-width="0.9"/>
<line x1="429.00" y1="571.60" x2="429.00" y2="573.20" stroke="#111" stroke-width="0.9"/>
<line x1="442.30" y1="571.60" x2="442.30" y2="573.20" stroke="#111" stroke-width="0.9"/>
<text x="437.80" y="563.60" font-size="6" text-anchor="middle" stroke="#231f20" stroke-width="0.15">*</text>
<text x="441.60" y="564.80" font-size="7.4" stroke="#231f20" stroke-width="0.15">p &lt;0.001</text>
<text x="280.70" y="613.00" font-size="7.4" textLength="48.50" lengthAdjust="spacingAndGlyphs">Number at risk</text>
<text x="267.50" y="622.50" font-size="7.4" textLength="61.75" lengthAdjust="spacingAndGlyphs">No NFE2 mutation</text>
<text x="279.50" y="632.00" font-size="7.4" textLength="49.75" lengthAdjust="spacingAndGlyphs">NFE2 mutation</text>
<text x="340.00" y="622.50" font-size="7.4" text-anchor="middle">702</text>
<text x="340.00" y="632.00" font-size="7.4" text-anchor="middle">2</text>
<text x="355.67" y="622.50" font-size="7.4" text-anchor="middle">521</text>
<text x="355.67" y="632.00" font-size="7.4" text-anchor="middle">3</text>
<text x="371.34" y="622.50" font-size="7.4" text-anchor="middle">327</text>
<text x="371.34" y="632.00" font-size="7.4" text-anchor="middle">5</text>
<text x="387.01" y="622.50" font-size="7.4" text-anchor="middle">160</text>
<text x="387.01" y="632.00" font-size="7.4" text-anchor="middle">6</text>
<text x="402.68" y="622.50" font-size="7.4" text-anchor="middle">91</text>
<text x="402.68" y="632.00" font-size="7.4" text-anchor="middle">2</text>
<text x="418.35" y="622.50" font-size="7.4" text-anchor="middle">54</text>
<text x="418.35" y="632.00" font-size="7.4" text-anchor="middle">0</text>
<text x="434.02" y="622.50" font-size="7.4" text-anchor="middle">25</text>
<text x="434.02" y="632.00" font-size="7.4" text-anchor="middle">1</text>
<text x="449.69" y="622.50" font-size="7.4" text-anchor="middle">7</text>
<text x="449.69" y="632.00" font-size="7.4" text-anchor="middle">0</text>
<text x="465.36" y="622.50" font-size="7.4" text-anchor="middle">3</text>
<text x="465.36" y="632.00" font-size="7.4" text-anchor="middle">0</text>
<text x="481.03" y="622.50" font-size="7.4" text-anchor="middle">1</text>
<text x="481.03" y="632.00" font-size="7.4" text-anchor="middle">0</text>
</g>
<rect x="0" y="0" width="520" height="1.3" fill="#000"/>
<rect x="0" y="0" width="1.2" height="641" fill="#000"/>
<rect x="518.6" y="0" width="1.4" height="641" fill="#000"/>
<rect x="0" y="639.5" width="520" height="1.5" fill="#000"/>
</svg>
</body></html>
